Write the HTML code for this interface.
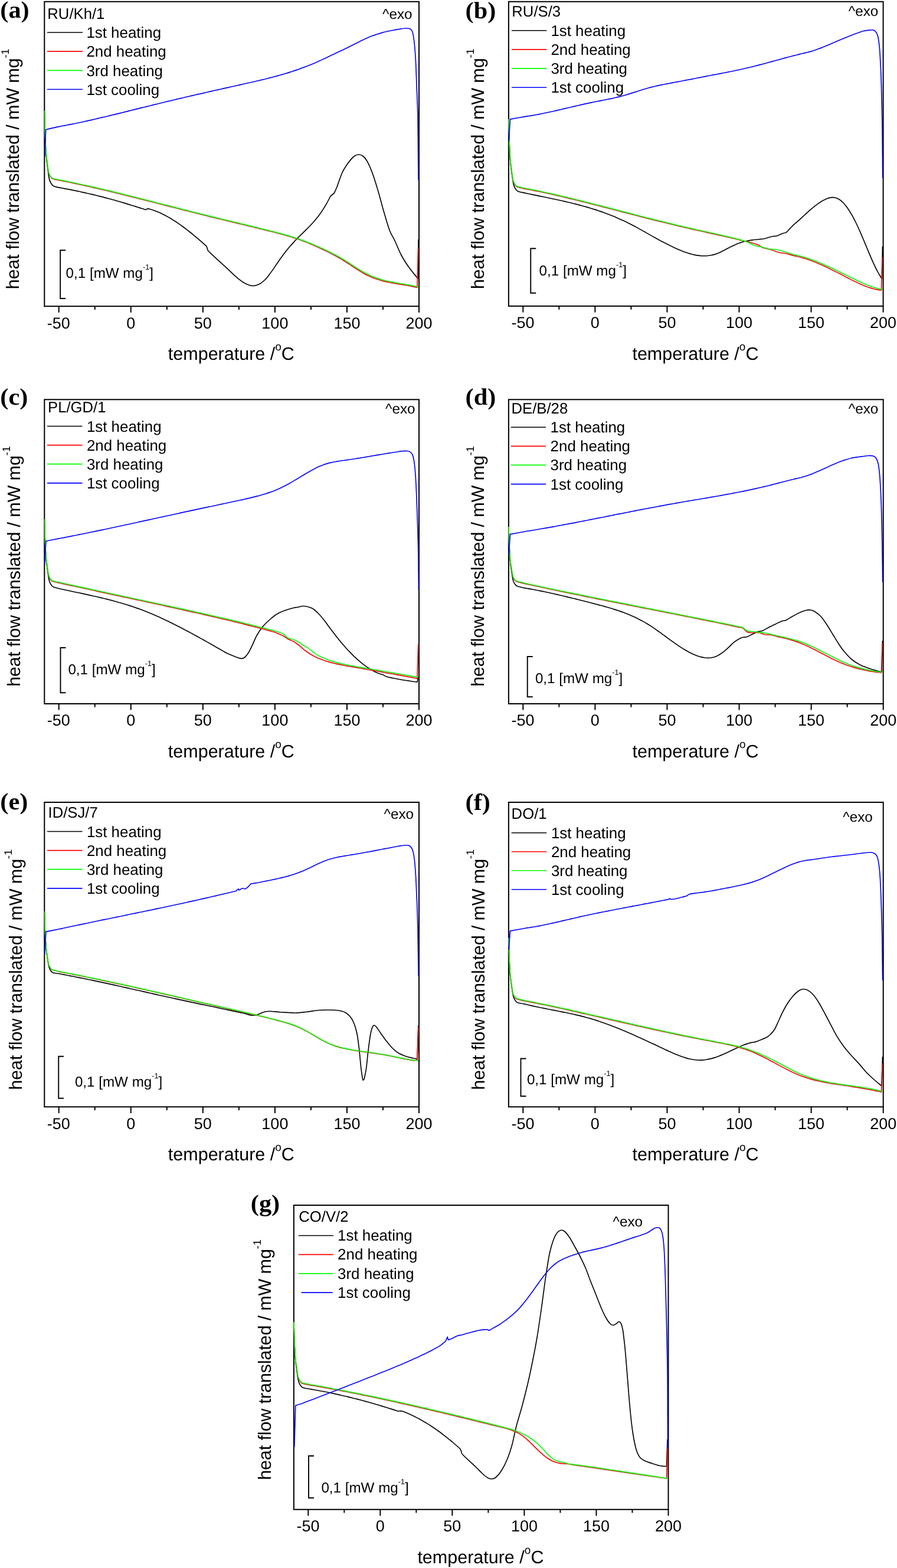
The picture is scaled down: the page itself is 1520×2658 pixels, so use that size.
<!DOCTYPE html>
<html lang="en">
<head>
<meta charset="utf-8">
<title>DSC curves: heat flow versus temperature</title>
<style>
html,body{margin:0;padding:0;background:#fff;}
body{width:1520px;height:2658px;overflow:hidden;}
svg{display:block;}
text{white-space:pre;}
</style>
</head>
<body>
<svg width="1520" height="2658" viewBox="0 0 1520 2658" text-rendering="geometricPrecision">
<rect width="1520" height="2658" fill="#fff"/>
<g class="panel" id="panel-a">
<clipPath id="ca"><rect x="74.1" y="1.8" width="637.1" height="518.4"/></clipPath>
<rect x="75.3" y="2.8" width="634.7" height="516.4" fill="none" stroke="#000" stroke-width="2"/>
<path d="M99.71 519.2 v10.6M160.74 519.2 v5.8M221.77 519.2 v10.6M282.8 519.2 v5.8M343.83 519.2 v10.6M404.86 519.2 v5.8M465.88 519.2 v10.6M526.91 519.2 v5.8M587.94 519.2 v10.6M648.97 519.2 v5.8M710 519.2 v10.6" stroke="#000" stroke-width="2" fill="none"/>
<g clip-path="url(#ca)" fill="none" stroke-linejoin="round" stroke-linecap="butt">
<path d="M75.3 188C75.5 194.4 76 215.6 76.4 226.3C76.8 236.9 77.1 244.9 77.5 251.8C77.9 258.7 78 261.9 78.6 267.5C79.2 273.1 80.2 280.1 80.8 285.5C81.5 290.8 82.2 296 82.7 299.5C83.3 303 83.6 304.3 84.4 306.4C85.2 308.5 86.2 310.5 87.3 312C88.4 313.6 89.3 314.7 91 315.6C92.7 316.5 95 316.9 97.2 317.4C99.5 317.9 102 318.3 104.4 318.7C106.8 319.2 109.1 319.6 111.5 320.1C113.9 320.5 116.3 321 118.6 321.4C121 321.9 123.4 322.4 125.8 322.9C128.2 323.3 130.5 323.8 132.9 324.3C135.3 324.8 137.7 325.4 140 325.9C142.4 326.4 144.8 326.9 147.2 327.5C149.5 328 151.9 328.6 154.3 329.1C156.7 329.7 159.1 330.2 161.4 330.8C163.8 331.4 166.2 332 168.6 332.6C170.9 333.2 173.3 333.8 175.7 334.4C178.1 335.1 180.4 335.7 182.8 336.3C185.2 337 187.6 337.6 190 338.3C192.3 338.9 194.7 339.6 197.1 340.3C199.5 341 201.8 341.6 204.2 342.3C206.6 343 209 343.7 211.3 344.4C213.7 345.2 216.1 345.9 218.5 346.6C220.9 347.3 223.2 348.1 225.6 348.8C228 349.5 230.4 350.3 232.7 351C235.1 351.8 237.5 352.6 239.9 353.3C242.2 354.1 245.8 355.3 247 355.6L250 353.8C250.7 353.9 252.2 354 254 354.5C255.8 355 258.6 355.9 260.9 356.7C263.1 357.5 265.4 358.4 267.7 359.3C270 360.3 272.3 361.3 274.6 362.4C276.9 363.5 279.1 364.7 281.4 365.9C283.7 367.1 286 368.4 288.3 369.8C290.6 371.1 292.9 372.6 295.1 374C297.4 375.5 299.7 377 302 378.6C304.3 380.2 306.6 381.8 308.9 383.5C311.1 385.1 313.4 386.8 315.7 388.6C318 390.4 320.3 392.2 322.6 394C324.9 395.8 327.1 397.7 329.4 399.6C331.7 401.5 334 403.4 336.3 405.4C338.6 407.4 340.9 409.4 343.1 411.4C345.4 413.4 348.9 416.4 350 417.5L352.5 425C353.3 425.8 354.4 426.9 357.5 429.8C360.6 432.7 366.4 438.1 371 442.3C375.6 446.5 380.8 451.3 385 455.2C389.2 459.1 392.7 462.6 396 465.6C399.3 468.6 401.8 470.9 405 473.4C408.2 475.8 411.2 478.4 415 480.3C418.8 482.2 423.3 484.3 427.5 484.5C431.7 484.7 436.2 483.1 440 481.2C443.8 479.4 447.2 476 450 473.3C452.8 470.5 454.6 467.8 456.9 464.8C459.2 461.7 461.5 458.4 463.8 455.1C466 451.8 468.3 448.3 470.6 445C472.9 441.6 475.2 438.3 477.5 435.2C479.8 432 482.1 429 484.4 426.1C486.7 423.3 489 420.5 491.2 417.8C493.5 415.2 495.8 412.6 498.1 410.1C500.4 407.6 502.7 405.3 505 402.9C507.3 400.6 509.6 398.4 511.9 396.1C514.2 393.9 516.5 391.7 518.8 389.4C521 387.2 523.3 384.9 525.6 382.5C527.9 380.1 530.2 377.6 532.5 375C534.8 372.3 537.1 369.6 539.4 366.6C541.7 363.6 544 360.4 546.2 356.9C548.5 353.4 550.8 349.7 553.1 345.7C555.4 341.6 558.9 334.7 560 332.5L566.2 327.5C567.1 325.6 569 322.1 571.2 316.2C573.5 310.4 576.9 299.2 580 292.5C583.1 285.8 586.7 280.8 590 276.2C593.3 271.7 597.1 267.4 600 265C602.9 262.6 605 262.1 607.5 262C610 261.9 612.5 262.5 615 264.5C617.5 266.5 619.6 268.2 622.5 273.8C625.4 279.2 629.2 288.1 632.5 297.5C635.8 306.9 639.6 320 642.5 330C645.4 340 647.1 347.5 650 357.5C652.9 367.5 656.9 381.7 660 390C663.1 398.3 665.4 400.4 668.8 407.5C672.1 414.6 676 425 680 432.5C684 440 688.1 446.2 692.5 452.5C696.9 458.8 703.7 466.8 706.2 470C708.8 473.2 707.7 471.7 708 472L709 406" stroke="#000" stroke-width="1.65"/>
<path d="M75.3 188C75.5 193.7 75.9 212.8 76.2 222.4C76.5 231.9 76.8 239.1 77.1 245.3C77.5 251.5 77.6 254.4 78.1 259.4C78.5 264.4 79.4 270.8 80 275.6C80.5 280.3 81.1 285 81.6 288.2C82.1 291.3 82.3 292.5 82.9 294.3C83.6 296.2 84.5 298 85.4 299.4C86.4 300.8 87.1 301.8 88.5 302.6C89.9 303.4 92 303.8 94.1 304.4C96.2 304.9 98.7 305.3 101.1 305.7C103.4 306.2 105.7 306.6 108 307.1C110.4 307.6 112.7 308 115 308.5C117.3 309 119.6 309.5 122 309.9C124.3 310.4 126.6 310.9 128.9 311.4C131.2 311.9 133.6 312.4 135.9 312.9C138.2 313.4 140.5 313.9 142.9 314.4C145.2 315 147.5 315.5 149.8 316C152.1 316.5 154.5 317 156.8 317.6C159.1 318.1 161.4 318.6 163.7 319.2C166.1 319.7 168.4 320.3 170.7 320.8C173 321.3 175.4 321.9 177.7 322.4C180 323 182.3 323.5 184.6 324.1C187 324.7 189.3 325.2 191.6 325.8C193.9 326.3 196.2 326.9 198.6 327.5C200.9 328 203.2 328.6 205.5 329.2C207.9 329.8 210.2 330.3 212.5 330.9C214.8 331.5 217.1 332.1 219.5 332.6C221.8 333.2 224.1 333.8 226.4 334.4C228.8 335 231.1 335.6 233.4 336.1C235.7 336.7 238 337.3 240.4 337.9C242.7 338.5 245 339.1 247.3 339.7C249.6 340.3 252 340.9 254.3 341.5C256.6 342 258.9 342.6 261.3 343.2C263.6 343.8 265.9 344.4 268.2 345C270.5 345.6 272.9 346.2 275.2 346.8C277.5 347.4 279.8 348 282.1 348.6C284.5 349.2 286.8 349.8 289.1 350.4C291.4 351 293.8 351.6 296.1 352.2C298.4 352.8 300.7 353.3 303 353.9C305.4 354.5 307.7 355.1 310 355.7C312.3 356.3 314.7 356.9 317 357.5C319.3 358.1 321.6 358.7 323.9 359.2C326.3 359.8 328.6 360.4 330.9 361C333.2 361.6 335.5 362.2 337.9 362.7C340.2 363.3 342.5 363.9 344.8 364.5C347.2 365.1 349.5 365.6 351.8 366.2C354.1 366.8 356.4 367.3 358.8 367.9C361.1 368.5 363.4 369.1 365.7 369.6C368 370.2 370.4 370.8 372.7 371.3C375 371.9 377.3 372.5 379.7 373C382 373.6 384.3 374.2 386.6 374.7C388.9 375.3 391.3 375.8 393.6 376.4C395.9 377 398.2 377.5 400.5 378.1C402.9 378.7 405.2 379.2 407.5 379.8C409.8 380.3 412.2 380.9 414.5 381.5C416.8 382 419.1 382.6 421.4 383.1C423.8 383.7 426.1 384.3 428.4 384.8C430.7 385.4 433.1 385.9 435.4 386.5C437.7 387.1 440 387.6 442.3 388.2C444.7 388.8 447 389.3 449.3 389.9C451.6 390.5 453.9 391 456.3 391.6C458.6 392.2 460.9 392.7 463.2 393.3C465.6 393.9 467.9 394.5 470.2 395.1C472.5 395.7 474.8 396.3 477.2 396.9C479.5 397.6 481.8 398.2 484.1 398.9C486.4 399.5 488.8 400.2 491.1 400.9C493.4 401.6 495.7 402.3 498.1 403.1C500.4 403.8 502.7 404.6 505 405.4C507.3 406.2 509.7 407 512 407.9C514.3 408.8 516.6 409.6 519 410.6C521.3 411.5 523.6 412.4 525.9 413.4C528.2 414.4 530.6 415.3 532.9 416.4C535.2 417.4 537.5 418.4 539.8 419.5C542.2 420.6 544.5 421.6 546.8 422.7C549.1 423.9 551.5 425 553.8 426.1C556.1 427.3 558.4 428.4 560.7 429.6C563.1 430.8 565.4 432 567.7 433.3C570 434.5 572.3 435.8 574.7 437.1C577 438.4 579.3 439.8 581.6 441.3C584 442.7 586.3 444.2 588.6 445.7C590.9 447.2 593.2 448.8 595.6 450.3C597.9 451.9 600.2 453.4 602.5 454.9C604.9 456.4 607.2 457.9 609.5 459.4C611.8 460.8 614.1 462.2 616.5 463.5C618.8 464.8 621.1 466 623.4 467.1C625.7 468.3 628.1 469.3 630.4 470.2C632.7 471.2 635 472 637.4 472.8C639.7 473.6 642 474.4 644.3 475C646.6 475.7 649 476.3 651.3 476.9C653.6 477.5 655.9 478 658.2 478.5C660.6 478.9 662.9 479.4 665.2 479.8C667.5 480.2 669.9 480.6 672.2 481C674.5 481.4 676.8 481.8 679.1 482.1C681.5 482.5 683.8 482.9 686.1 483.3C688.4 483.7 690.7 484.1 693.1 484.5C695.4 484.9 697.7 485.4 700 485.9C702.4 486.4 705.8 487.2 707 487.5L708.7 420" stroke="#f00" stroke-width="1.65"/>
<path d="M75.3 188C75.5 193.7 75.9 212.7 76.2 222.2C76.5 231.7 76.8 238.8 77.1 244.9C77.5 251.1 77.6 253.9 78.1 259C78.5 264 79.4 270.3 80 275C80.5 279.8 81.1 284.4 81.6 287.5C82.1 290.7 82.3 291.8 82.9 293.7C83.6 295.6 84.5 297.3 85.4 298.7C86.4 300.1 87.1 301.1 88.5 301.9C89.9 302.7 92 303.2 94.1 303.7C96.2 304.2 98.8 304.6 101.1 305C103.4 305.5 105.7 305.9 108.1 306.4C110.4 306.9 112.7 307.3 115 307.8C117.4 308.3 119.7 308.8 122 309.3C124.4 309.7 126.7 310.2 129 310.7C131.3 311.2 133.7 311.7 136 312.2C138.3 312.7 140.6 313.2 143 313.8C145.3 314.3 147.6 314.8 150 315.3C152.3 315.8 154.6 316.4 156.9 316.9C159.3 317.4 161.6 318 163.9 318.5C166.2 319 168.6 319.6 170.9 320.1C173.2 320.7 175.6 321.2 177.9 321.8C180.2 322.3 182.5 322.9 184.9 323.4C187.2 324 189.5 324.6 191.8 325.1C194.2 325.7 196.5 326.3 198.8 326.8C201.2 327.4 203.5 328 205.8 328.5C208.1 329.1 210.5 329.7 212.8 330.3C215.1 330.9 217.4 331.4 219.8 332C222.1 332.6 224.4 333.2 226.8 333.8C229.1 334.4 231.4 335 233.7 335.5C236.1 336.1 238.4 336.7 240.7 337.3C243 337.9 245.4 338.5 247.7 339.1C250 339.7 252.4 340.3 254.7 340.9C257 341.5 259.3 342.1 261.7 342.7C264 343.3 266.3 343.9 268.6 344.5C271 345.1 273.3 345.7 275.6 346.2C278 346.8 280.3 347.4 282.6 348C284.9 348.6 287.3 349.2 289.6 349.8C291.9 350.4 294.2 351 296.6 351.6C298.9 352.2 301.2 352.8 303.6 353.4C305.9 354 308.2 354.6 310.5 355.2C312.9 355.8 315.2 356.4 317.5 356.9C319.8 357.5 322.2 358.1 324.5 358.7C326.8 359.3 329.2 359.9 331.5 360.5C333.8 361 336.1 361.6 338.5 362.2C340.8 362.8 343.1 363.4 345.4 363.9C347.8 364.5 350.1 365.1 352.4 365.6C354.8 366.2 357.1 366.8 359.4 367.4C361.7 367.9 364.1 368.5 366.4 369.1C368.7 369.6 371 370.2 373.4 370.8C375.7 371.3 378 371.9 380.4 372.5C382.7 373 385 373.6 387.3 374.1C389.7 374.7 392 375.3 394.3 375.8C396.6 376.4 399 377 401.3 377.5C403.6 378.1 406 378.6 408.3 379.2C410.6 379.8 412.9 380.3 415.3 380.9C417.6 381.5 419.9 382 422.2 382.6C424.6 383.2 426.9 383.7 429.2 384.3C431.6 384.9 433.9 385.4 436.2 386C438.5 386.6 440.9 387.1 443.2 387.7C445.5 388.3 447.8 388.8 450.2 389.4C452.5 390 454.8 390.6 457.2 391.2C459.5 391.7 461.8 392.3 464.1 392.9C466.5 393.5 468.8 394.1 471.1 394.7C473.4 395.3 475.8 396 478.1 396.6C480.4 397.3 482.8 397.9 485.1 398.6C487.4 399.2 489.7 399.9 492.1 400.6C494.4 401.3 496.7 402.1 499 402.8C501.4 403.6 503.7 404.3 506 405.1C508.4 405.9 510.7 406.7 513 407.6C515.3 408.4 517.7 409.3 520 410.2C522.3 411.1 524.6 412 527 413C529.3 413.9 531.6 414.9 534 415.9C536.3 416.9 538.6 417.9 540.9 418.9C543.3 419.9 545.6 421 547.9 422.1C550.2 423.2 552.6 424.3 554.9 425.4C557.2 426.5 559.6 427.7 561.9 428.9C564.2 430 566.5 431.2 568.9 432.5C571.2 433.7 573.5 435 575.8 436.3C578.2 437.6 580.5 439 582.8 440.4C585.2 441.8 587.5 443.3 589.8 444.8C592.1 446.3 594.5 447.9 596.8 449.4C599.1 450.9 601.4 452.4 603.8 453.9C606.1 455.4 608.4 456.9 610.8 458.3C613.1 459.7 615.4 461 617.7 462.3C620.1 463.5 622.4 464.7 624.7 465.8C627 466.9 629.4 467.9 631.7 468.9C634 469.8 636.4 470.6 638.7 471.4C641 472.2 643.3 473 645.7 473.7C648 474.3 650.3 475 652.6 475.5C655 476.1 657.3 476.6 659.6 477.1C662 477.6 664.3 478.1 666.6 478.5C668.9 479 671.3 479.4 673.6 479.8C675.9 480.2 678.2 480.6 680.6 481C682.9 481.4 685.2 481.7 687.6 482.1C689.9 482.5 692.2 482.9 694.5 483.4C696.9 483.8 699.2 484.3 701.5 484.8C703.8 485.3 707.3 486.1 708.5 486.4" stroke="#0f0" stroke-width="1.65"/>
<path d="M75.9 265L77.6 219.7L77.6 219.7C81.3 218.8 95.1 215.6 100 214.6C104.9 213.5 104.7 213.7 107 213.3C109.3 212.9 111.7 212.4 114 212C116.4 211.5 118.7 211.1 121 210.6C123.4 210.1 125.7 209.6 128 209.2C130.4 208.7 132.7 208.2 135.1 207.7C137.4 207.2 139.7 206.7 142.1 206.2C144.4 205.7 146.7 205.2 149.1 204.6C151.4 204.1 153.8 203.6 156.1 203.1C158.4 202.5 160.8 202 163.1 201.5C165.4 200.9 167.8 200.4 170.1 199.8C172.5 199.3 174.8 198.7 177.1 198.2C179.5 197.6 181.8 197.1 184.1 196.5C186.5 195.9 188.8 195.4 191.2 194.8C193.5 194.2 195.8 193.7 198.2 193.1C200.5 192.5 202.8 191.9 205.2 191.4C207.5 190.8 209.9 190.2 212.2 189.6C214.5 189.1 216.9 188.5 219.2 187.9C221.5 187.3 223.9 186.7 226.2 186.1C228.6 185.6 230.9 185 233.2 184.4C235.6 183.8 237.9 183.2 240.2 182.6C242.6 182.1 244.9 181.5 247.3 180.9C249.6 180.3 251.9 179.7 254.3 179.2C256.6 178.6 258.9 178 261.3 177.4C263.6 176.9 266 176.3 268.3 175.7C270.6 175.2 273 174.6 275.3 174C277.6 173.5 280 172.9 282.3 172.3C284.7 171.8 287 171.2 289.3 170.7C291.7 170.1 294 169.5 296.3 169C298.7 168.4 301 167.9 303.4 167.3C305.7 166.8 308 166.2 310.4 165.7C312.7 165.1 315 164.6 317.4 164C319.7 163.5 322.1 162.9 324.4 162.4C326.7 161.9 329.1 161.3 331.4 160.8C333.7 160.2 336.1 159.7 338.4 159.2C340.8 158.6 343.1 158.1 345.4 157.6C347.8 157 350.1 156.5 352.4 156C354.8 155.4 357.1 154.9 359.5 154.4C361.8 153.8 364.1 153.3 366.5 152.8C368.8 152.3 371.1 151.7 373.5 151.2C375.8 150.7 378.2 150.2 380.5 149.6C382.8 149.1 385.2 148.6 387.5 148.1C389.8 147.5 392.2 147 394.5 146.5C396.8 146 399.2 145.5 401.5 145C403.9 144.4 406.2 143.9 408.5 143.4C410.9 142.9 413.2 142.4 415.5 141.8C417.9 141.3 420.2 140.8 422.6 140.3C424.9 139.7 427.2 139.2 429.6 138.7C431.9 138.1 434.2 137.6 436.6 137C438.9 136.5 441.3 135.9 443.6 135.4C445.9 134.8 448.3 134.2 450.6 133.7C452.9 133.1 455.3 132.5 457.6 131.9C460 131.3 462.3 130.7 464.6 130C467 129.4 469.3 128.8 471.6 128.1C474 127.5 476.3 126.8 478.7 126.1C481 125.5 483.3 124.8 485.7 124.1C488 123.3 490.3 122.6 492.7 121.9C495 121.1 497.4 120.4 499.7 119.6C502 118.8 504.4 118 506.7 117.2C509 116.3 511.4 115.5 513.7 114.6C516.1 113.8 518.4 112.9 520.7 112C523.1 111.1 525.4 110.1 527.7 109.2C530.1 108.2 532.4 107.2 534.8 106.2C537.1 105.2 539.4 104.1 541.8 103.1C544.1 102 546.4 100.9 548.8 99.8C551.1 98.7 553.5 97.6 555.8 96.5C558.1 95.4 560.5 94.2 562.8 93.1C565.1 92 567.5 90.9 569.8 89.8C572.2 88.6 574.5 87.5 576.8 86.5C579.2 85.4 581.5 84.3 583.8 83.2C586.2 82.1 588.5 81 590.9 79.8C593.2 78.7 595.5 77.5 597.9 76.3C600.2 75.1 602.5 73.9 604.9 72.7C607.2 71.5 609.6 70.3 611.9 69.1C614.2 68 616.6 66.9 618.9 65.8C621.2 64.8 623.6 63.8 625.9 62.8C628.3 61.9 630.6 61 632.9 60.1C635.3 59.3 637.6 58.5 639.9 57.7C642.3 56.9 644.6 56.2 647 55.6C649.3 54.9 651.6 54.3 654 53.8C656.3 53.2 658.6 52.7 661 52.2C663.3 51.7 665.7 51.3 668 50.9C670.3 50.4 671.7 50 675 49.6C678.3 49.1 684.2 48.1 687.5 48C690.8 47.9 693.1 48 695 49C696.9 50 697.6 50.2 698.8 53.8C699.9 57.2 700.8 62.3 701.8 70C702.7 77.7 703.5 86.7 704.2 100C705 113.3 705.6 133.3 706.2 150C706.9 166.7 707.6 179.2 708 200C708.4 220.8 708.5 257.5 708.7 275C708.9 292.5 709 300 709 305" stroke="#00f" stroke-width="1.65"/>
</g>
<g font-family='"Liberation Sans", sans-serif' font-size="27" text-anchor="middle" fill="#000">
<text x="99.31" y="556.6">-50</text>
<text x="221.77" y="556.6">0</text>
<text x="343.83" y="556.6">50</text>
<text x="465.88" y="556.6">100</text>
<text x="587.94" y="556.6">150</text>
<text x="710" y="556.6">200</text>
</g>
<text x="391.85" y="610" font-family='"Liberation Sans", sans-serif' font-size="30.5" text-anchor="middle" fill="#000">temperature /<tspan font-size="19" dy="-16">o</tspan><tspan dy="16">C</tspan></text>
<text transform="translate(32 82.6) rotate(-90)" font-family='"Liberation Sans", sans-serif' font-size="30.5" text-anchor="end" letter-spacing="-0.12" fill="#000">heat flow translated / mW mg<tspan font-size="18.3" dy="-17.08">-1</tspan></text>
<text transform="translate(0.3 30.1) scale(1.06 1)" font-family='"Liberation Serif", serif' font-weight="bold" font-size="40" fill="#000">(a)</text>
<text x="80.3" y="32" font-family='"Liberation Sans", sans-serif' font-size="25.7" fill="#000">RU/Kh/1</text>
<text x="648" y="32" font-family='"Liberation Sans", sans-serif' font-size="24.3" fill="#000">^exo</text>
<path d="M80 55 H140" stroke="#000" stroke-width="1.7" fill="none"/>
<path d="M80 87.17 H140" stroke="#f00" stroke-width="1.7" fill="none"/>
<path d="M80 119.34 H140" stroke="#0f0" stroke-width="1.7" fill="none"/>
<path d="M80 151.51 H140" stroke="#00f" stroke-width="1.7" fill="none"/>
<g font-family='"Liberation Sans", sans-serif' font-size="25.9" fill="#000">
<text x="146.4" y="64.25">1st heating</text>
<text x="146.4" y="96.42">2nd heating</text>
<text x="146.4" y="128.59">3rd heating</text>
<text x="146.4" y="160.76">1st cooling</text>
</g>
<path d="M111.2 424.3 H102.2 V506 H111.2" stroke="#000" stroke-width="1.9" fill="none"/>
<text x="111.6" y="470.8" font-family='"Liberation Sans", sans-serif' font-size="24.2" fill="#000">0,1 [mW mg<tspan font-size="12.58" dy="-13.55">-1</tspan><tspan dy="13.55">]</tspan></text>
</g>
<g class="panel" id="panel-b">
<clipPath id="cb"><rect x="860.7" y="1.8" width="637.1" height="518.1"/></clipPath>
<rect x="861.9" y="2.8" width="634.7" height="516.1" fill="none" stroke="#000" stroke-width="2"/>
<path d="M886.31 518.9 v10.6M947.34 518.9 v5.8M1008.37 518.9 v10.6M1069.4 518.9 v5.8M1130.43 518.9 v10.6M1191.46 518.9 v5.8M1252.48 518.9 v10.6M1313.51 518.9 v5.8M1374.54 518.9 v10.6M1435.57 518.9 v5.8M1496.6 518.9 v10.6" stroke="#000" stroke-width="2" fill="none"/>
<g clip-path="url(#cb)" fill="none" stroke-linejoin="round" stroke-linecap="butt">
<path d="M861.9 202C862.1 208.1 862.6 228.5 863 238.7C863.4 248.9 863.8 256.6 864.1 263.2C864.5 269.8 864.7 272.9 865.3 278.3C865.8 283.6 866.8 290.4 867.5 295.5C868.3 300.6 868.9 305.6 869.5 309C870.1 312.3 870.4 313.6 871.2 315.6C871.9 317.6 873 319.5 874.2 321C875.3 322.4 875.7 323.5 877.9 324.4C880.1 325.3 884.5 326 887.2 326.6C890 327.3 891.9 327.7 894.3 328.2C896.6 328.7 899 329.2 901.3 329.6C903.7 330.1 906 330.6 908.4 331.1C910.7 331.6 913.1 332.1 915.4 332.6C917.8 333.1 920.1 333.5 922.5 334C924.8 334.5 927.2 335 929.5 335.5C931.9 336 934.2 336.5 936.6 337C938.9 337.5 941.3 338 943.6 338.5C946 339 948.3 339.5 950.7 340C953 340.6 955.4 341.1 957.7 341.6C960.1 342.2 962.4 342.7 964.8 343.3C967.1 343.8 969.5 344.4 971.8 345C974.2 345.6 976.5 346.2 978.9 346.8C981.2 347.4 983.6 348 985.9 348.7C988.3 349.3 990.6 349.9 993 350.6C995.3 351.3 997.7 352 1000 352.7C1002.4 353.4 1004.7 354.1 1007.1 354.9C1009.4 355.6 1011.8 356.4 1014.1 357.2C1016.5 358 1018.8 358.8 1021.2 359.6C1023.5 360.5 1025.8 361.3 1028.2 362.2C1030.5 363.1 1032.9 364 1035.2 364.9C1037.6 365.9 1039.9 366.8 1042.3 367.8C1044.6 368.8 1047 369.8 1049.3 370.9C1051.7 371.9 1054 373 1056.4 374.1C1058.7 375.1 1061.1 376.3 1063.4 377.4C1065.8 378.6 1068.1 379.8 1070.5 381C1072.8 382.2 1075.2 383.4 1077.5 384.7C1079.9 386 1082.2 387.3 1084.6 388.6C1086.9 389.9 1089.3 391.2 1091.6 392.6C1094 393.9 1096.3 395.3 1098.7 396.6C1101 397.9 1103.4 399.3 1105.7 400.6C1108.1 401.9 1110.4 403.2 1112.8 404.5C1115.1 405.8 1117.5 407.1 1119.8 408.4C1122.2 409.6 1124.5 410.9 1126.9 412.1C1129.2 413.3 1131.6 414.5 1133.9 415.6C1136.3 416.8 1138.6 417.9 1141 419C1143.3 420.1 1145.7 421.2 1148 422.2C1150.4 423.2 1152.7 424.2 1155.1 425.2C1157.4 426.1 1159.8 427 1162.1 427.8C1164.4 428.6 1166.8 429.4 1169.1 430.1C1171.5 430.7 1173.8 431.4 1176.2 431.9C1178.5 432.4 1180.9 432.8 1183.2 433.1C1185.6 433.4 1187.9 433.7 1190.3 433.7C1192.6 433.8 1195 433.8 1197.3 433.7C1199.7 433.5 1202 433.2 1204.4 432.8C1206.7 432.4 1209.1 431.8 1211.4 431.1C1213.8 430.3 1216.1 429.4 1218.5 428.4C1220.8 427.4 1223.2 426.2 1225.5 425C1227.9 423.9 1230.2 422.6 1232.6 421.3C1234.9 420.1 1237.3 418.8 1239.6 417.7C1242 416.5 1244.3 415.4 1246.7 414.4C1249 413.4 1251.4 412.5 1253.7 411.7C1256.1 410.9 1258.4 410.1 1260.8 409.5C1263.1 408.9 1265.5 408.4 1267.8 408C1270.2 407.6 1272.5 407.2 1274.9 406.9C1277.2 406.6 1279.6 406.4 1281.9 406.2C1284.3 405.9 1286.6 405.7 1289 405.4C1291.3 405.2 1292.7 405.3 1296 404.5C1299.3 403.7 1305.2 401.5 1308.5 400.8C1311.8 400 1313.1 400.8 1316 400C1318.9 399.2 1323.3 396.7 1326 395.8C1328.7 394.8 1331.2 394.5 1332.2 394.2L1332.2 394.2C1334.1 392.3 1340.4 385.4 1343.5 382.4C1346.6 379.4 1348.3 378.3 1350.6 376.2C1353 374.1 1355.4 371.9 1357.8 369.7C1360.2 367.5 1362.5 365.3 1364.9 363.1C1367.3 361 1369.7 358.8 1372.1 356.7C1374.5 354.6 1376.8 352.6 1379.2 350.7C1381.6 348.7 1384 346.9 1386.4 345.2C1388.7 343.5 1391.1 341.9 1393.5 340.5C1395.9 339.1 1398.3 337.8 1400.6 336.9C1403 335.9 1405.4 335.2 1407.8 334.9C1410.2 334.6 1412.5 334.5 1414.9 335C1417.3 335.6 1419.7 336.5 1422.1 338C1424.5 339.5 1426.8 341.5 1429.2 344C1431.6 346.5 1434 349.5 1436.4 352.9C1438.7 356.3 1441.1 360.2 1443.5 364.4C1445.9 368.6 1448.3 373.2 1450.6 378C1453 382.9 1455.4 388.2 1457.8 393.6C1460.2 398.9 1462.5 404.7 1464.9 410.4C1467.3 416 1469.7 421.9 1472.1 427.6C1474.5 433.2 1476.8 438.9 1479.2 444.1C1481.6 449.4 1484 454.5 1486.4 459C1488.7 463.6 1492.1 469.1 1493.5 471.3C1494.9 473.5 1494.3 472.3 1494.5 472.5L1495.5 417.5" stroke="#000" stroke-width="1.65"/>
<path d="M861.9 202C862.1 207.7 862.6 226.8 862.9 236.3C863.2 245.9 863.5 253 863.9 259.2C864.2 265.4 864.4 268.2 864.9 273.3C865.4 278.3 866.3 284.6 866.9 289.4C867.5 294.2 868.1 298.9 868.6 302C869.1 305.1 869.4 306.3 870.1 308.2C870.8 310 871.7 311.8 872.7 313.2C873.7 314.6 873.6 315.3 876 316.4C878.4 317.5 884.2 318.8 887.2 319.6C890.3 320.3 891.9 320.4 894.2 320.9C896.5 321.3 898.8 321.7 901.2 322.2C903.5 322.7 905.8 323.1 908.1 323.6C910.4 324.1 912.8 324.5 915.1 325C917.4 325.5 919.7 326 922 326.5C924.4 327 926.7 327.5 929 328C931.3 328.5 933.6 329 936 329.5C938.3 330.1 940.6 330.6 942.9 331.1C945.2 331.7 947.5 332.2 949.9 332.7C952.2 333.3 954.5 333.8 956.8 334.4C959.1 334.9 961.5 335.5 963.8 336.1C966.1 336.6 968.4 337.2 970.7 337.8C973.1 338.3 975.4 338.9 977.7 339.5C980 340 982.3 340.6 984.7 341.2C987 341.8 989.3 342.4 991.6 343C993.9 343.5 996.3 344.1 998.6 344.7C1000.9 345.3 1003.2 345.9 1005.5 346.5C1007.8 347.1 1010.2 347.7 1012.5 348.3C1014.8 348.9 1017.1 349.5 1019.4 350.1C1021.8 350.7 1024.1 351.3 1026.4 351.9C1028.7 352.5 1031 353.1 1033.4 353.7C1035.7 354.3 1038 354.9 1040.3 355.5C1042.6 356.1 1045 356.7 1047.3 357.3C1049.6 357.9 1051.9 358.5 1054.2 359.1C1056.6 359.7 1058.9 360.3 1061.2 360.9C1063.5 361.5 1065.8 362.1 1068.1 362.7C1070.5 363.3 1072.8 363.9 1075.1 364.5C1077.4 365.1 1079.7 365.7 1082.1 366.3C1084.4 366.9 1086.7 367.5 1089 368.1C1091.3 368.7 1093.7 369.3 1096 369.9C1098.3 370.4 1100.6 371 1102.9 371.6C1105.3 372.2 1107.6 372.8 1109.9 373.4C1112.2 373.9 1114.5 374.5 1116.8 375.1C1119.2 375.7 1121.5 376.3 1123.8 376.8C1126.1 377.4 1128.4 378 1130.8 378.5C1133.1 379.1 1135.4 379.7 1137.7 380.2C1140 380.8 1142.4 381.3 1144.7 381.9C1147 382.5 1149.3 383 1151.6 383.6C1154 384.1 1156.3 384.7 1158.6 385.2C1160.9 385.7 1163.2 386.3 1165.6 386.8C1167.9 387.3 1170.2 387.9 1172.5 388.4C1174.8 388.9 1177.1 389.4 1179.5 390C1181.8 390.5 1184.1 391 1186.4 391.5C1188.7 392 1191.1 392.5 1193.4 393C1195.7 393.6 1198 394.1 1200.3 394.6C1202.7 395.1 1205 395.6 1207.3 396.1C1209.6 396.6 1211.9 397.1 1214.3 397.6C1216.6 398.2 1218.9 398.7 1221.2 399.2C1223.5 399.7 1225.9 400.2 1228.2 400.8C1230.5 401.3 1232.8 401.8 1235.1 402.4C1237.4 402.9 1239.8 403.5 1242.1 404C1244.4 404.6 1246.7 405.2 1249 405.7C1251.4 406.3 1252.5 406.7 1256 407.5C1259.5 408.3 1265 409.1 1270 410.5C1275 411.9 1282.5 414.3 1286 415.8C1289.5 417.2 1287.7 418 1291 419.3C1294.3 420.6 1301 421.8 1306 423.3C1311 424.8 1316.8 427.2 1321 428.2C1325.2 429.3 1327.3 428.7 1331 429.5C1334.7 430.3 1339.9 432.1 1343 432.9C1346.1 433.7 1347.6 433.8 1349.8 434.3C1352.1 434.8 1354.4 435.4 1356.7 436C1359 436.6 1361.2 437.3 1363.5 438C1365.8 438.7 1368.1 439.5 1370.4 440.3C1372.6 441.1 1374.9 441.9 1377.2 442.8C1379.5 443.7 1381.8 444.6 1384 445.5C1386.3 446.5 1388.6 447.4 1390.9 448.5C1393.2 449.5 1395.4 450.5 1397.7 451.6C1400 452.6 1402.3 453.7 1404.6 454.8C1406.8 455.9 1409.1 457 1411.4 458.2C1413.7 459.3 1416 460.4 1418.2 461.6C1420.5 462.8 1422.8 463.9 1425.1 465.1C1427.4 466.3 1429.7 467.5 1431.9 468.7C1434.2 469.8 1436.5 471 1438.8 472.2C1441.1 473.4 1443.3 474.6 1445.6 475.7C1447.9 476.8 1450.2 478 1452.5 479C1454.7 480.1 1457 481.2 1459.3 482.2C1461.6 483.2 1463.9 484.1 1466.1 485C1468.4 485.9 1470.7 486.7 1473 487.5C1475.3 488.2 1477.5 488.9 1479.8 489.5C1482.1 490.1 1484.4 490.7 1486.7 491.1C1488.9 491.5 1492.4 491.9 1493.5 492L1495 436" stroke="#f00" stroke-width="1.65"/>
<path d="M861.9 202C862.1 207.7 862.6 226.6 862.9 236.1C863.2 245.5 863.5 252.7 863.9 258.8C864.2 264.9 864.4 267.8 864.9 272.8C865.4 277.8 866.3 284 866.9 288.8C867.5 293.5 868.1 298.2 868.6 301.3C869.1 304.4 869.4 305.6 870.1 307.4C870.8 309.3 871.7 311.1 872.7 312.4C873.7 313.8 873.6 314.5 876 315.6C878.4 316.7 884.2 318.1 887.2 318.8C890.3 319.6 891.9 319.7 894.2 320.1C896.5 320.5 898.8 321 901.2 321.4C903.5 321.9 905.8 322.4 908.1 322.8C910.4 323.3 912.8 323.8 915.1 324.2C917.4 324.7 919.7 325.2 922 325.7C924.4 326.2 926.7 326.7 929 327.2C931.3 327.7 933.6 328.3 936 328.8C938.3 329.3 940.6 329.8 942.9 330.4C945.2 330.9 947.5 331.4 949.9 332C952.2 332.5 954.5 333.1 956.8 333.6C959.1 334.2 961.5 334.7 963.8 335.3C966.1 335.8 968.4 336.4 970.7 337C973.1 337.5 975.4 338.1 977.7 338.7C980 339.3 982.3 339.8 984.7 340.4C987 341 989.3 341.6 991.6 342.2C993.9 342.7 996.3 343.3 998.6 343.9C1000.9 344.5 1003.2 345.1 1005.5 345.7C1007.8 346.3 1010.2 346.9 1012.5 347.5C1014.8 348.1 1017.1 348.7 1019.4 349.3C1021.8 349.9 1024.1 350.5 1026.4 351.1C1028.7 351.7 1031 352.3 1033.4 352.9C1035.7 353.5 1038 354.1 1040.3 354.7C1042.6 355.3 1045 355.9 1047.3 356.5C1049.6 357.1 1051.9 357.7 1054.2 358.3C1056.6 358.9 1058.9 359.5 1061.2 360.1C1063.5 360.7 1065.8 361.3 1068.1 361.9C1070.5 362.5 1072.8 363.1 1075.1 363.7C1077.4 364.3 1079.7 364.9 1082.1 365.5C1084.4 366.1 1086.7 366.7 1089 367.3C1091.3 367.9 1093.7 368.5 1096 369.1C1098.3 369.6 1100.6 370.2 1102.9 370.8C1105.3 371.4 1107.6 372 1109.9 372.6C1112.2 373.2 1114.5 373.7 1116.8 374.3C1119.2 374.9 1121.5 375.5 1123.8 376C1126.1 376.6 1128.4 377.2 1130.8 377.7C1133.1 378.3 1135.4 378.9 1137.7 379.4C1140 380 1142.4 380.6 1144.7 381.1C1147 381.7 1149.3 382.2 1151.6 382.8C1154 383.3 1156.3 383.9 1158.6 384.4C1160.9 384.9 1163.2 385.5 1165.6 386C1167.9 386.5 1170.2 387.1 1172.5 387.6C1174.8 388.1 1177.1 388.6 1179.5 389.2C1181.8 389.7 1184.1 390.2 1186.4 390.7C1188.7 391.2 1191.1 391.7 1193.4 392.2C1195.7 392.7 1198 393.3 1200.3 393.8C1202.7 394.3 1205 394.8 1207.3 395.3C1209.6 395.8 1211.9 396.3 1214.3 396.8C1216.6 397.4 1218.9 397.9 1221.2 398.4C1223.5 398.9 1225.9 399.5 1228.2 400C1230.5 400.5 1232.8 401.1 1235.1 401.6C1237.4 402.2 1239.8 402.8 1242.1 403.3C1244.4 403.9 1246.7 404.5 1249 405.1C1251.4 405.7 1252.8 405.8 1256 406.9C1259.2 407.9 1264.8 409.7 1268.5 411.2C1272.2 412.8 1274.8 415 1278.5 416.2C1282.2 417.5 1286.4 417.7 1291 418.8C1295.6 419.8 1301.8 421.8 1306 422.5C1310.2 423.2 1311.8 422.2 1316 423C1320.2 423.8 1326.5 425.7 1331 427C1335.5 428.3 1339.8 430.1 1343 431C1346.2 431.9 1347.6 431.9 1349.9 432.5C1352.2 433 1354.5 433.6 1356.8 434.2C1359.1 434.9 1361.4 435.5 1363.7 436.2C1366 437 1368.3 437.7 1370.6 438.5C1372.9 439.3 1375.2 440.1 1377.5 441C1379.8 441.8 1382.2 442.7 1384.5 443.6C1386.8 444.5 1389.1 445.5 1391.4 446.4C1393.7 447.4 1396 448.4 1398.3 449.4C1400.6 450.4 1402.9 451.4 1405.2 452.5C1407.5 453.5 1409.8 454.6 1412.1 455.7C1414.4 456.8 1416.7 457.9 1419 459C1421.3 460.1 1423.6 461.2 1425.9 462.4C1428.2 463.5 1430.5 464.7 1432.8 465.8C1435.1 466.9 1437.4 468.1 1439.7 469.2C1442 470.4 1444.3 471.5 1446.6 472.6C1448.9 473.8 1451.2 474.9 1453.5 476C1455.8 477.1 1458.2 478.1 1460.5 479.2C1462.8 480.2 1465.1 481.2 1467.4 482.1C1469.7 483.1 1472 484 1474.3 484.9C1476.6 485.7 1478.9 486.5 1481.2 487.3C1483.5 488 1485.8 488.7 1488.1 489.4C1490.4 490 1493.8 490.7 1495 491" stroke="#0f0" stroke-width="1.65"/>
<path d="M862.2 239.4L864.5 202.1L864.5 202.1C868.8 201.4 884.6 198.5 890 197.6C895.4 196.7 894.7 196.9 897 196.5C899.3 196.2 901.7 195.8 904 195.4C906.3 194.9 908.7 194.5 911 194.1C913.3 193.6 915.6 193.2 918 192.7C920.3 192.3 922.6 191.8 925 191.3C927.3 190.8 929.6 190.3 932 189.8C934.3 189.3 936.6 188.8 939 188.2C941.3 187.7 943.6 187.2 946 186.6C948.3 186.1 950.6 185.6 952.9 185C955.3 184.5 957.6 183.9 959.9 183.4C962.3 182.9 964.6 182.3 966.9 181.8C969.3 181.2 971.6 180.7 973.9 180.1C976.3 179.6 978.6 179.1 980.9 178.5C983.3 178 985.6 177.5 987.9 176.9C990.2 176.4 992.6 175.9 994.9 175.4C997.2 174.9 999.6 174.4 1001.9 173.9C1004.2 173.4 1006.6 172.9 1008.9 172.5C1011.2 172 1013.6 171.6 1015.9 171.1C1018.2 170.6 1020.6 170.2 1022.9 169.7C1025.2 169.3 1027.5 168.8 1029.9 168.3C1032.2 167.9 1034.5 167.4 1036.9 166.9C1039.2 166.4 1041.5 165.8 1043.9 165.3C1046.2 164.7 1048.5 164.2 1050.9 163.6C1053.2 163 1055.5 162.3 1057.9 161.7C1060.2 161 1062.5 160.3 1064.8 159.6C1067.2 158.9 1069.5 158.2 1071.8 157.4C1074.2 156.7 1076.5 155.9 1078.8 155.2C1081.2 154.4 1083.5 153.7 1085.8 153C1088.2 152.2 1090.5 151.5 1092.8 150.8C1095.2 150.1 1097.5 149.5 1099.8 148.8C1102.1 148.2 1104.5 147.6 1106.8 147C1109.1 146.5 1111.5 145.9 1113.8 145.4C1116.1 144.9 1118.5 144.4 1120.8 143.9C1123.1 143.4 1125.5 143 1127.8 142.5C1130.1 142.1 1132.5 141.6 1134.8 141.2C1137.1 140.8 1139.4 140.3 1141.8 139.9C1144.1 139.5 1146.4 139 1148.8 138.6C1151.1 138.1 1153.4 137.7 1155.8 137.3C1158.1 136.8 1160.4 136.4 1162.8 135.9C1165.1 135.5 1167.4 135 1169.8 134.6C1172.1 134.1 1174.4 133.7 1176.8 133.2C1179.1 132.7 1181.4 132.3 1183.7 131.8C1186.1 131.4 1188.4 130.9 1190.7 130.5C1193.1 130 1195.4 129.6 1197.7 129.1C1200.1 128.6 1202.4 128.2 1204.7 127.7C1207.1 127.3 1209.4 126.9 1211.7 126.4C1214.1 126 1216.4 125.5 1218.7 125.1C1221 124.6 1223.4 124.2 1225.7 123.7C1228 123.3 1230.4 122.8 1232.7 122.4C1235 121.9 1237.4 121.4 1239.7 121C1242 120.5 1244.4 120 1246.7 119.5C1249 119 1251.4 118.5 1253.7 118C1256 117.5 1258.3 117 1260.7 116.5C1263 115.9 1265.3 115.4 1267.7 114.8C1270 114.3 1272.3 113.7 1274.7 113.1C1277 112.6 1279.3 112 1281.7 111.4C1284 110.8 1286.3 110.2 1288.7 109.6C1291 109 1293.3 108.4 1295.6 107.7C1298 107.1 1300.3 106.5 1302.6 105.8C1305 105.2 1307.3 104.6 1309.6 103.9C1312 103.3 1314.3 102.6 1316.6 102C1319 101.4 1321.3 100.7 1323.6 100.1C1326 99.4 1328.3 98.8 1330.6 98.1C1332.9 97.5 1335.3 96.9 1337.6 96.3C1339.9 95.6 1342.3 95 1344.6 94.4C1346.9 93.9 1349.3 93.3 1351.6 92.7C1353.9 92.1 1356.3 91.6 1358.6 91C1360.9 90.5 1363.3 90 1365.6 89.4C1367.9 88.8 1370.2 88.3 1372.6 87.6C1374.9 87 1377.2 86.3 1379.6 85.5C1381.9 84.7 1384.2 83.9 1386.6 83C1388.9 82.2 1391.2 81.3 1393.6 80.4C1395.9 79.4 1398.2 78.5 1400.6 77.5C1402.9 76.6 1405.2 75.6 1407.5 74.6C1409.9 73.6 1412.2 72.6 1414.5 71.6C1416.9 70.6 1419.2 69.6 1421.5 68.6C1423.9 67.6 1426.2 66.6 1428.5 65.6C1430.9 64.6 1433.2 63.7 1435.5 62.7C1437.9 61.7 1440.2 60.8 1442.5 59.9C1444.8 59 1447.2 58.1 1449.5 57.2C1451.8 56.4 1454.2 55.5 1456.5 54.7C1458.8 54 1460.3 53.2 1463.5 52.5C1466.7 51.8 1472.9 50.8 1476 50.8C1479.1 50.7 1480.4 50.5 1482.2 52C1484.1 53.5 1485.9 54.9 1487.2 60C1488.6 65.1 1489.6 71.7 1490.5 82.5C1491.4 93.3 1492.1 109.6 1492.8 125C1493.4 140.4 1493.8 156.2 1494.2 175C1494.7 193.8 1495 216.3 1495.2 237.5C1495.4 258.7 1495.6 291.2 1495.7 302" stroke="#00f" stroke-width="1.65"/>
</g>
<g font-family='"Liberation Sans", sans-serif' font-size="27" text-anchor="middle" fill="#000">
<text x="885.91" y="556.3">-50</text>
<text x="1008.37" y="556.3">0</text>
<text x="1130.43" y="556.3">50</text>
<text x="1252.48" y="556.3">100</text>
<text x="1374.54" y="556.3">150</text>
<text x="1496.6" y="556.3">200</text>
</g>
<text x="1178.45" y="609.7" font-family='"Liberation Sans", sans-serif' font-size="30.5" text-anchor="middle" fill="#000">temperature /<tspan font-size="19" dy="-16">o</tspan><tspan dy="16">C</tspan></text>
<text transform="translate(820 82.5) rotate(-90)" font-family='"Liberation Sans", sans-serif' font-size="30.5" text-anchor="end" letter-spacing="-0.12" fill="#000">heat flow translated / mW mg<tspan font-size="18.3" dy="-17.08">-1</tspan></text>
<text transform="translate(788.6 30.5) scale(1.06 1)" font-family='"Liberation Serif", serif' font-weight="bold" font-size="40" fill="#000">(b)</text>
<text x="867.3" y="28" font-family='"Liberation Sans", sans-serif' font-size="25.7" fill="#000">RU/S/3</text>
<text x="1437.8" y="26.5" font-family='"Liberation Sans", sans-serif' font-size="24.3" fill="#000">^exo</text>
<path d="M867 51.75 H926.25" stroke="#000" stroke-width="1.7" fill="none"/>
<path d="M867 83.92 H926.25" stroke="#f00" stroke-width="1.7" fill="none"/>
<path d="M867 116.09 H926.25" stroke="#0f0" stroke-width="1.7" fill="none"/>
<path d="M867 148.26 H926.25" stroke="#00f" stroke-width="1.7" fill="none"/>
<g font-family='"Liberation Sans", sans-serif' font-size="25.9" fill="#000">
<text x="933.4" y="60.5">1st heating</text>
<text x="933.4" y="92.67">2nd heating</text>
<text x="933.4" y="124.84">3rd heating</text>
<text x="933.4" y="157.01">1st cooling</text>
</g>
<path d="M908.25 421.25 H899.25 V496.75 H908.25" stroke="#000" stroke-width="1.9" fill="none"/>
<text x="913.6" y="467" font-family='"Liberation Sans", sans-serif' font-size="24.2" fill="#000">0,1 [mW mg<tspan font-size="12.58" dy="-13.55">-1</tspan><tspan dy="13.55">]</tspan></text>
</g>
<g class="panel" id="panel-c">
<clipPath id="cc"><rect x="74.1" y="676.3" width="637.1" height="517.7"/></clipPath>
<rect x="75.3" y="677.3" width="634.7" height="515.7" fill="none" stroke="#000" stroke-width="2"/>
<path d="M99.71 1193 v10.6M160.74 1193 v5.8M221.77 1193 v10.6M282.8 1193 v5.8M343.83 1193 v10.6M404.86 1193 v5.8M465.88 1193 v10.6M526.91 1193 v5.8M587.94 1193 v10.6M648.97 1193 v5.8M710 1193 v10.6" stroke="#000" stroke-width="2" fill="none"/>
<g clip-path="url(#cc)" fill="none" stroke-linejoin="round" stroke-linecap="butt">
<path d="M75.3 880C75.5 885.8 76 904.9 76.4 914.5C76.7 924.1 77.1 931.3 77.4 937.5C77.8 943.7 78 946.6 78.5 951.6C79.1 956.7 80 963 80.7 967.9C81.4 972.7 82 977.4 82.6 980.5C83.1 983.7 83.4 984.8 84.2 986.7C84.9 988.6 86 990.4 87 991.8C88.1 993.2 88.2 994 90.6 995C93 996 98.3 997.2 101.2 998C104.2 998.7 105.9 999 108.2 999.5C110.5 1000 112.8 1000.5 115.1 1001C117.4 1001.5 119.7 1002 122 1002.5C124.3 1003 126.6 1003.5 128.9 1004C131.2 1004.5 133.5 1004.9 135.9 1005.4C138.2 1005.9 140.5 1006.4 142.8 1006.9C145.1 1007.4 147.4 1007.9 149.7 1008.4C152 1008.9 154.3 1009.4 156.6 1010C158.9 1010.5 161.2 1011 163.5 1011.5C165.8 1012.1 168.2 1012.6 170.5 1013.1C172.8 1013.7 175.1 1014.2 177.4 1014.8C179.7 1015.4 182 1015.9 184.3 1016.5C186.6 1017.1 188.9 1017.7 191.2 1018.3C193.5 1018.9 195.8 1019.6 198.1 1020.2C200.4 1020.8 202.8 1021.5 205.1 1022.2C207.4 1022.8 209.7 1023.5 212 1024.2C214.3 1024.9 216.6 1025.6 218.9 1026.4C221.2 1027.1 223.5 1027.9 225.8 1028.7C228.1 1029.5 230.4 1030.3 232.7 1031.1C235.1 1031.9 237.4 1032.8 239.7 1033.6C242 1034.5 244.3 1035.4 246.6 1036.3C248.9 1037.2 251.2 1038.2 253.5 1039.1C255.8 1040.1 258.1 1041 260.4 1042C262.7 1043 265 1044 267.3 1045.1C269.7 1046.1 272 1047.1 274.3 1048.2C276.6 1049.3 278.9 1050.3 281.2 1051.4C283.5 1052.5 285.8 1053.7 288.1 1054.8C290.4 1055.9 292.7 1057 295 1058.2C297.3 1059.4 299.6 1060.5 302 1061.7C304.3 1062.9 306.6 1064.1 308.9 1065.3C311.2 1066.5 313.5 1067.7 315.8 1068.9C318.1 1070.1 320.4 1071.4 322.7 1072.6C325 1073.9 327.3 1075.1 329.6 1076.4C331.9 1077.6 334.2 1078.9 336.6 1080.2C338.9 1081.5 341.2 1082.7 343.5 1084C345.8 1085.3 348.1 1086.6 350.4 1087.9C352.7 1089.2 355 1090.5 357.3 1091.8C359.6 1093.1 361.9 1094.4 364.2 1095.7C366.5 1097.1 368.9 1098.4 371.2 1099.7C373.5 1101 375.8 1102.3 378.1 1103.6C380.4 1105 381.3 1105.9 385 1107.6C388.7 1109.3 396 1112.3 400 1113.8C404 1115.2 406.2 1116.4 408.8 1116.4C411.2 1116.4 412.9 1115.7 415 1114C417.1 1112.3 419.2 1109.6 421.2 1106.2C423.3 1102.9 425.2 1098.5 427.5 1093.8C429.8 1089 432.1 1082.7 435 1077.5C437.9 1072.3 441.2 1067.1 445 1062.5C448.8 1057.9 453.3 1053.7 457.5 1050C461.7 1046.3 465.8 1043 470 1040.5C474.2 1038 477.9 1036.7 482.5 1035C487.1 1033.3 493.8 1031.5 497.5 1030.5C501.2 1029.5 502.5 1029.8 505 1029.2C507.5 1028.8 509.6 1027.6 512.5 1027.5C515.4 1027.4 519.6 1028 522.5 1028.8C525.4 1029.5 527.1 1029.8 530 1031.8C532.9 1033.7 536.7 1037.1 540 1040.5C543.3 1043.9 547.1 1048.6 550 1052.2C552.9 1055.8 554.8 1058.8 557.1 1062.1C559.5 1065.3 561.9 1068.5 564.3 1071.6C566.7 1074.8 569 1077.8 571.4 1080.8C573.8 1083.8 576.2 1086.7 578.6 1089.5C581 1092.3 583.3 1095.1 585.7 1097.7C588.1 1100.4 590.5 1103 592.9 1105.4C595.2 1107.9 597.6 1110.3 600 1112.6C602.4 1114.9 604.8 1117.1 607.1 1119.2C609.5 1121.3 611.9 1123.3 614.3 1125.1C616.7 1127 619 1128.8 621.4 1130.4C623.8 1132.1 626.2 1133.6 628.6 1135C631 1136.4 633.3 1137.7 635.7 1138.9C638.1 1140.1 640.5 1141.1 642.9 1142C645.2 1142.9 648 1143.4 650 1144.3C652 1145.1 650.8 1145.8 655 1147C659.2 1148.2 668.3 1150 675 1151.2C681.7 1152.5 689.7 1153.7 695 1154.5C700.3 1155.3 705 1156 707 1156.2L708.5 1148" stroke="#000" stroke-width="1.65"/>
<path d="M75.3 880C75.5 885.3 75.9 902.8 76.2 911.6C76.6 920.4 76.9 927 77.2 932.6C77.5 938.3 77.6 941 78.1 945.6C78.6 950.2 79.5 956 80 960.4C80.6 964.9 81.2 969.2 81.7 972C82.2 974.9 82.4 976 83.1 977.7C83.7 979.4 84.7 981.1 85.6 982.4C86.6 983.6 86.1 984.3 88.8 985.3C91.4 986.3 98 987.6 101.2 988.3C104.5 989.1 105.9 989.3 108.2 989.9C110.6 990.4 112.9 990.9 115.2 991.4C117.6 991.9 119.9 992.4 122.2 992.9C124.6 993.4 126.9 993.9 129.2 994.5C131.6 995 133.9 995.5 136.2 996C138.6 996.5 140.9 997 143.2 997.5C145.6 998 147.9 998.5 150.2 999C152.5 999.5 154.9 1000 157.2 1000.5C159.5 1001.1 161.9 1001.6 164.2 1002.1C166.5 1002.6 168.9 1003.1 171.2 1003.6C173.5 1004.1 175.9 1004.6 178.2 1005.1C180.5 1005.6 182.9 1006.1 185.2 1006.6C187.5 1007.1 189.9 1007.6 192.2 1008.1C194.5 1008.6 196.9 1009.1 199.2 1009.6C201.5 1010.1 203.8 1010.6 206.2 1011.1C208.5 1011.7 210.8 1012.2 213.2 1012.7C215.5 1013.2 217.8 1013.7 220.2 1014.2C222.5 1014.7 224.8 1015.2 227.2 1015.7C229.5 1016.2 231.8 1016.7 234.2 1017.2C236.5 1017.7 238.8 1018.2 241.2 1018.7C243.5 1019.2 245.8 1019.7 248.1 1020.2C250.5 1020.8 252.8 1021.3 255.1 1021.8C257.5 1022.3 259.8 1022.8 262.1 1023.3C264.5 1023.8 266.8 1024.3 269.1 1024.8C271.5 1025.3 273.8 1025.8 276.1 1026.3C278.5 1026.9 280.8 1027.4 283.1 1027.9C285.5 1028.4 287.8 1028.9 290.1 1029.4C292.5 1029.9 294.8 1030.4 297.1 1031C299.4 1031.5 301.8 1032 304.1 1032.5C306.4 1033 308.8 1033.5 311.1 1034.1C313.4 1034.6 315.8 1035.1 318.1 1035.6C320.4 1036.1 322.8 1036.7 325.1 1037.2C327.4 1037.7 329.8 1038.2 332.1 1038.8C334.4 1039.3 336.8 1039.8 339.1 1040.3C341.4 1040.9 343.8 1041.4 346.1 1041.9C348.4 1042.4 350.7 1043 353.1 1043.5C355.4 1044.1 357.7 1044.6 360.1 1045.1C362.4 1045.7 364.7 1046.2 367.1 1046.8C369.4 1047.3 371.7 1047.8 374.1 1048.4C376.4 1048.9 378.7 1049.5 381.1 1050C383.4 1050.6 385.7 1051.2 388.1 1051.7C390.4 1052.3 392.7 1052.8 395 1053.4C397.4 1054 399.7 1054.5 402 1055.1C404.4 1055.7 406.7 1056.3 409 1056.8C411.4 1057.4 413.7 1058 416 1058.6C418.4 1059.2 420.7 1059.8 423 1060.4C425.4 1061 427.7 1061.6 430 1062.2C432.4 1062.8 434.7 1063.4 437 1064C439.4 1064.6 441.7 1065.2 444 1065.8C446.3 1066.5 448.7 1067.1 451 1067.7C453.3 1068.3 455.7 1069 458 1069.6C460.3 1070.3 461.3 1070.2 465 1071.5C468.7 1072.9 476.2 1076.1 480 1078C483.8 1079.9 484.6 1081.4 487.5 1083C490.4 1084.6 494.2 1085.6 497.5 1087.5C500.8 1089.4 504.2 1091.9 507.5 1094.5C510.8 1097.1 513.8 1100.2 517.5 1103C521.2 1105.8 526.7 1109.4 530 1111.3C533.3 1113.3 534.7 1113.7 537.1 1114.7C539.4 1115.8 541.8 1116.7 544.2 1117.7C546.5 1118.6 548.9 1119.4 551.2 1120.2C553.6 1121 556 1121.7 558.3 1122.4C560.7 1123 563 1123.7 565.4 1124.3C567.8 1124.8 570.1 1125.4 572.5 1125.9C574.8 1126.4 577.2 1126.9 579.6 1127.3C581.9 1127.8 584.3 1128.2 586.6 1128.7C589 1129.1 591.4 1129.5 593.7 1129.9C596.1 1130.3 598.4 1130.7 600.8 1131.1C603.2 1131.5 605.5 1131.9 607.9 1132.3C610.2 1132.7 612.6 1133.1 615 1133.5C617.3 1133.9 619.7 1134.3 622 1134.7C624.4 1135.2 626.8 1135.6 629.1 1136C631.5 1136.4 633.8 1136.8 636.2 1137.2C638.6 1137.7 640.9 1138.1 643.3 1138.5C645.6 1138.9 648 1139.3 650.4 1139.8C652.7 1140.2 655.1 1140.6 657.4 1141.1C659.8 1141.5 662.2 1141.9 664.5 1142.3C666.9 1142.8 669.2 1143.2 671.6 1143.6C674 1144.1 676.3 1144.5 678.7 1144.9C681 1145.4 683.4 1145.8 685.8 1146.2C688.1 1146.7 690.5 1147.1 692.8 1147.5C695.2 1148 697.6 1148.4 699.9 1148.8C702.3 1149.3 705.8 1149.9 707 1150.2L708.8 1092" stroke="#f00" stroke-width="1.65"/>
<path d="M75.3 880C75.5 885.2 75.9 902.6 76.2 911.3C76.6 920 76.9 926.6 77.2 932.2C77.5 937.8 77.6 940.4 78.1 945C78.6 949.6 79.5 955.4 80 959.8C80.6 964.1 81.2 968.4 81.7 971.2C82.2 974.1 82.4 975.2 83.1 976.9C83.7 978.6 84.7 980.2 85.6 981.5C86.6 982.7 86.1 983.4 88.8 984.4C91.4 985.4 98 986.7 101.2 987.4C104.5 988.2 105.9 988.4 108.2 989C110.6 989.5 112.9 990 115.2 990.5C117.6 991 119.9 991.5 122.2 992C124.6 992.6 126.9 993.1 129.2 993.6C131.6 994.1 133.9 994.6 136.2 995.1C138.6 995.6 140.9 996.1 143.2 996.6C145.6 997.1 147.9 997.6 150.2 998.1C152.5 998.6 154.9 999.2 157.2 999.7C159.5 1000.2 161.9 1000.7 164.2 1001.2C166.5 1001.7 168.9 1002.2 171.2 1002.7C173.5 1003.2 175.9 1003.7 178.2 1004.2C180.5 1004.7 182.9 1005.2 185.2 1005.7C187.5 1006.2 189.9 1006.7 192.2 1007.2C194.5 1007.7 196.9 1008.2 199.2 1008.7C201.5 1009.2 203.8 1009.7 206.2 1010.2C208.5 1010.7 210.8 1011.2 213.2 1011.7C215.5 1012.2 217.8 1012.7 220.2 1013.2C222.5 1013.7 224.8 1014.2 227.2 1014.7C229.5 1015.2 231.8 1015.7 234.2 1016.2C236.5 1016.7 238.8 1017.2 241.2 1017.7C243.5 1018.2 245.8 1018.8 248.1 1019.3C250.5 1019.8 252.8 1020.3 255.1 1020.8C257.5 1021.3 259.8 1021.8 262.1 1022.3C264.5 1022.8 266.8 1023.3 269.1 1023.8C271.5 1024.3 273.8 1024.8 276.1 1025.3C278.5 1025.8 280.8 1026.3 283.1 1026.8C285.5 1027.3 287.8 1027.8 290.1 1028.4C292.5 1028.9 294.8 1029.4 297.1 1029.9C299.4 1030.4 301.8 1030.9 304.1 1031.4C306.4 1031.9 308.8 1032.4 311.1 1032.9C313.4 1033.5 315.8 1034 318.1 1034.5C320.4 1035 322.8 1035.5 325.1 1036C327.4 1036.6 329.8 1037.1 332.1 1037.6C334.4 1038.1 336.8 1038.6 339.1 1039.1C341.4 1039.7 343.8 1040.2 346.1 1040.7C348.4 1041.2 350.7 1041.8 353.1 1042.3C355.4 1042.8 357.7 1043.3 360.1 1043.9C362.4 1044.4 364.7 1044.9 367.1 1045.5C369.4 1046 371.7 1046.5 374.1 1047.1C376.4 1047.6 378.7 1048.2 381.1 1048.7C383.4 1049.2 385.7 1049.8 388.1 1050.3C390.4 1050.9 392.7 1051.4 395 1052C397.4 1052.5 399.7 1053.1 402 1053.6C404.4 1054.2 406.7 1054.7 409 1055.3C411.4 1055.9 413.7 1056.4 416 1057C418.4 1057.6 420.7 1058.1 423 1058.7C425.4 1059.3 427.7 1059.8 430 1060.4C432.4 1061 434.7 1061.6 437 1062.2C439.4 1062.7 441.7 1063.3 444 1063.9C446.3 1064.5 448.7 1065.1 451 1065.7C453.3 1066.3 455.7 1066.9 458 1067.5C460.3 1068.1 461.3 1068.1 465 1069.3C468.7 1070.5 476.2 1072.5 480 1074.5C483.8 1076.5 484.6 1079.6 487.5 1081.2C490.4 1082.9 494.2 1082.9 497.5 1084.2C500.8 1085.6 505 1087.8 507.5 1089.2C510 1090.7 510 1091.4 512.5 1093C515 1094.6 518.8 1096.2 522.5 1098.8C526.2 1101.3 531.8 1106.3 535 1108.6C538.2 1110.8 539.6 1111.2 541.9 1112.4C544.3 1113.5 546.6 1114.6 548.9 1115.6C551.2 1116.6 553.5 1117.6 555.8 1118.4C558.1 1119.3 560.4 1120.1 562.8 1120.8C565.1 1121.6 567.4 1122.3 569.7 1122.9C572 1123.6 574.3 1124.1 576.6 1124.7C579 1125.3 581.3 1125.8 583.6 1126.3C585.9 1126.8 588.2 1127.2 590.5 1127.7C592.8 1128.1 595.1 1128.5 597.5 1128.9C599.8 1129.4 602.1 1129.8 604.4 1130.2C606.7 1130.6 609 1131 611.3 1131.4C613.7 1131.8 616 1132.2 618.3 1132.6C620.6 1133 622.9 1133.4 625.2 1133.8C627.5 1134.2 629.8 1134.6 632.2 1135C634.5 1135.4 636.8 1135.7 639.1 1136.1C641.4 1136.5 643.7 1136.9 646 1137.3C648.4 1137.7 650.7 1138.1 653 1138.5C655.3 1138.8 657.6 1139.2 659.9 1139.6C662.2 1140 664.5 1140.4 666.9 1140.8C669.2 1141.2 671.5 1141.6 673.8 1142C676.1 1142.4 678.4 1142.8 680.7 1143.2C683.1 1143.6 685.4 1144 687.7 1144.4C690 1144.8 692.3 1145.2 694.6 1145.6C696.9 1146 699.2 1146.4 701.6 1146.9C703.9 1147.3 707.3 1147.9 708.5 1148.2" stroke="#0f0" stroke-width="1.65"/>
<path d="M75.6 956.2L77.9 917.2L77.9 917.2C81.6 916.5 95.2 913.8 100 912.9C104.8 912 104.7 912 107 911.6C109.3 911.1 111.6 910.7 114 910.2C116.3 909.8 118.6 909.3 121 908.9C123.3 908.4 125.6 907.9 128 907.5C130.3 907 132.6 906.6 134.9 906.1C137.3 905.6 139.6 905.2 141.9 904.7C144.3 904.2 146.6 903.7 148.9 903.3C151.2 902.8 153.6 902.3 155.9 901.8C158.2 901.3 160.6 900.9 162.9 900.4C165.2 899.9 167.6 899.4 169.9 898.9C172.2 898.4 174.5 898 176.9 897.5C179.2 897 181.5 896.5 183.9 896C186.2 895.5 188.5 895 190.8 894.5C193.2 894 195.5 893.5 197.8 893C200.2 892.5 202.5 892 204.8 891.5C207.1 891 209.5 890.5 211.8 890C214.1 889.5 216.5 889 218.8 888.5C221.1 888 223.5 887.5 225.8 887C228.1 886.5 230.4 886 232.8 885.5C235.1 884.9 237.4 884.4 239.8 883.9C242.1 883.4 244.4 882.9 246.7 882.4C249.1 881.9 251.4 881.4 253.7 880.9C256.1 880.4 258.4 879.8 260.7 879.3C263.1 878.8 265.4 878.3 267.7 877.8C270 877.3 272.4 876.8 274.7 876.3C277 875.8 279.4 875.3 281.7 874.7C284 874.2 286.3 873.7 288.7 873.2C291 872.7 293.3 872.2 295.7 871.7C298 871.2 300.3 870.7 302.7 870.2C305 869.7 307.3 869.1 309.6 868.6C312 868.1 314.3 867.6 316.6 867.1C319 866.6 321.3 866.1 323.6 865.6C325.9 865.1 328.3 864.6 330.6 864.1C332.9 863.6 335.3 863.1 337.6 862.6C339.9 862.1 342.2 861.6 344.6 861.1C346.9 860.6 349.2 860.1 351.6 859.6C353.9 859.1 356.2 858.6 358.6 858.2C360.9 857.7 363.2 857.2 365.5 856.7C367.9 856.2 370.2 855.7 372.5 855.2C374.9 854.7 377.2 854.3 379.5 853.8C381.8 853.3 384.2 852.8 386.5 852.3C388.8 851.8 391.2 851.3 393.5 850.8C395.8 850.3 398.2 849.8 400.5 849.3C402.8 848.8 405.1 848.3 407.5 847.8C409.8 847.3 412.1 846.7 414.5 846.2C416.8 845.7 419.1 845.1 421.4 844.6C423.8 844 426.1 843.5 428.4 842.9C430.8 842.3 433.1 841.8 435.4 841.1C437.8 840.5 440.1 839.9 442.4 839.2C444.7 838.6 447.1 837.9 449.4 837.2C451.7 836.5 454.1 835.7 456.4 834.9C458.7 834.1 461 833.3 463.4 832.4C465.7 831.5 468 830.5 470.4 829.5C472.7 828.5 475 827.5 477.3 826.3C479.7 825.2 482 824 484.3 822.8C486.7 821.6 489 820.3 491.3 819C493.7 817.7 496 816.3 498.3 814.9C500.6 813.6 503 812.2 505.3 810.8C507.6 809.3 510 807.9 512.3 806.5C514.6 805.1 516.9 803.7 519.3 802.3C521.6 800.9 523.9 799.5 526.3 798.2C528.6 796.9 530.9 795.7 533.3 794.5C535.6 793.3 537.9 792.1 540.2 791.1C542.6 790.1 544.9 789.1 547.2 788.3C549.6 787.4 551.9 786.6 554.2 785.9C556.5 785.2 558.9 784.6 561.2 784.1C563.5 783.6 565.9 783.1 568.2 782.7C570.5 782.2 572.9 781.9 575.2 781.5C577.5 781.2 579.8 780.8 582.2 780.5C584.5 780.2 586.8 779.9 589.2 779.6C591.5 779.2 593.8 778.9 596.1 778.5C598.5 778.2 600.8 777.8 603.1 777.5C605.5 777.1 607.8 776.7 610.1 776.4C612.4 776 614.8 775.6 617.1 775.2C619.4 774.8 621.8 774.4 624.1 774C626.4 773.6 628.8 773.2 631.1 772.8C633.4 772.4 635.7 772 638.1 771.6C640.4 771.3 642.7 770.9 645.1 770.5C647.4 770.1 649.7 769.7 652 769.3C654.4 768.9 656.7 768.5 659 768.1C661.4 767.8 663.7 767.4 666 767C668.4 766.7 670.7 766.3 673 766C675.3 765.6 677.2 765.2 680 764.9C682.8 764.7 687.3 764.2 690 764.5C692.7 764.8 694.6 765.5 696.2 767C697.9 768.5 698.9 769.5 700 773.8C701.1 778 702.2 784.4 703 792.5C703.8 800.6 704.3 809.2 705 822.5C705.7 835.8 706.4 855.8 707 872.5C707.6 889.2 708.1 905.4 708.5 922.5C708.9 939.6 709.1 962.1 709.2 975C709.4 987.9 709.4 995.8 709.4 1000" stroke="#00f" stroke-width="1.65"/>
</g>
<g font-family='"Liberation Sans", sans-serif' font-size="27" text-anchor="middle" fill="#000">
<text x="99.31" y="1230.4">-50</text>
<text x="221.77" y="1230.4">0</text>
<text x="343.83" y="1230.4">50</text>
<text x="465.88" y="1230.4">100</text>
<text x="587.94" y="1230.4">150</text>
<text x="710" y="1230.4">200</text>
</g>
<text x="391.85" y="1283.8" font-family='"Liberation Sans", sans-serif' font-size="30.5" text-anchor="middle" fill="#000">temperature /<tspan font-size="19" dy="-16">o</tspan><tspan dy="16">C</tspan></text>
<text transform="translate(33.75 756.25) rotate(-90)" font-family='"Liberation Sans", sans-serif' font-size="30.5" text-anchor="end" letter-spacing="-0.12" fill="#000">heat flow translated / mW mg<tspan font-size="18.3" dy="-17.08">-1</tspan></text>
<text transform="translate(0.3 685.5) scale(1.06 1)" font-family='"Liberation Serif", serif' font-weight="bold" font-size="40" fill="#000">(c)</text>
<text x="81" y="698.75" font-family='"Liberation Sans", sans-serif' font-size="25.7" fill="#000">PL/GD/1</text>
<text x="653" y="700.75" font-family='"Liberation Sans", sans-serif' font-size="24.3" fill="#000">^exo</text>
<path d="M80 722.5 H139.5" stroke="#000" stroke-width="1.7" fill="none"/>
<path d="M80 754.6 H139.5" stroke="#f00" stroke-width="1.7" fill="none"/>
<path d="M80 786.7 H139.5" stroke="#0f0" stroke-width="1.7" fill="none"/>
<path d="M80 818.8 H139.5" stroke="#00f" stroke-width="1.7" fill="none"/>
<g font-family='"Liberation Sans", sans-serif' font-size="25.9" fill="#000">
<text x="146.9" y="731.75">1st heating</text>
<text x="146.9" y="763.85">2nd heating</text>
<text x="146.9" y="795.95">3rd heating</text>
<text x="146.9" y="828.05">1st cooling</text>
</g>
<path d="M111.5 1098 H102.5 V1174.25 H111.5" stroke="#000" stroke-width="1.9" fill="none"/>
<text x="115.4" y="1143" font-family='"Liberation Sans", sans-serif' font-size="24.2" fill="#000">0,1 [mW mg<tspan font-size="12.58" dy="-13.55">-1</tspan><tspan dy="13.55">]</tspan></text>
</g>
<g class="panel" id="panel-d">
<clipPath id="cd"><rect x="860.7" y="676.3" width="637.2" height="517.7"/></clipPath>
<rect x="861.9" y="677.3" width="634.8" height="515.7" fill="none" stroke="#000" stroke-width="2"/>
<path d="M886.32 1193 v10.6M947.35 1193 v5.8M1008.39 1193 v10.6M1069.43 1193 v5.8M1130.47 1193 v10.6M1191.51 1193 v5.8M1252.55 1193 v10.6M1313.58 1193 v5.8M1374.62 1193 v10.6M1435.66 1193 v5.8M1496.7 1193 v10.6" stroke="#000" stroke-width="2" fill="none"/>
<g clip-path="url(#cd)" fill="none" stroke-linejoin="round" stroke-linecap="butt">
<path d="M861.9 893.1C862.1 898.1 862.6 914.9 862.9 923.3C863.3 931.7 863.6 938 864 943.4C864.3 948.8 864.5 951.4 865 955.8C865.5 960.2 866.4 965.8 867.1 970C867.7 974.2 868.3 978.3 868.9 981.1C869.4 983.8 869.7 984.9 870.4 986.5C871.1 988.1 872.1 989.7 873.2 990.9C874.2 992.1 874.3 992.8 876.6 993.8C878.9 994.7 884.3 995.7 887.2 996.4C890.2 997 891.9 997.2 894.2 997.6C896.6 998 898.9 998.4 901.2 998.9C903.5 999.3 905.9 999.7 908.2 1000.2C910.5 1000.6 912.9 1001.1 915.2 1001.6C917.5 1002.1 919.8 1002.5 922.2 1003C924.5 1003.5 926.8 1004 929.2 1004.5C931.5 1005 933.8 1005.5 936.1 1006C938.5 1006.6 940.8 1007.1 943.1 1007.6C945.5 1008.1 947.8 1008.7 950.1 1009.2C952.4 1009.8 954.8 1010.3 957.1 1010.9C959.4 1011.4 961.8 1012 964.1 1012.6C966.4 1013.1 968.7 1013.7 971.1 1014.3C973.4 1014.8 975.7 1015.4 978.1 1016C980.4 1016.6 982.7 1017.2 985 1017.7C987.4 1018.3 989.7 1018.9 992 1019.5C994.4 1020.1 996.7 1020.7 999 1021.3C1001.3 1021.9 1003.7 1022.5 1006 1023.1C1008.3 1023.7 1010.7 1024.3 1013 1024.9C1015.3 1025.6 1017.6 1026.2 1020 1026.8C1022.3 1027.4 1024.6 1028.1 1027 1028.7C1029.3 1029.4 1031.6 1030.1 1033.9 1030.8C1036.3 1031.4 1038.6 1032.2 1040.9 1032.9C1043.3 1033.6 1045.6 1034.4 1047.9 1035.2C1050.2 1036 1052.6 1036.8 1054.9 1037.6C1057.2 1038.5 1059.6 1039.4 1061.9 1040.3C1064.2 1041.2 1066.5 1042.2 1068.9 1043.2C1071.2 1044.2 1073.5 1045.2 1075.9 1046.3C1078.2 1047.4 1080.5 1048.5 1082.8 1049.7C1085.2 1050.9 1087.5 1052.1 1089.8 1053.4C1092.2 1054.7 1094.5 1056.1 1096.8 1057.5C1099.1 1058.9 1101.5 1060.4 1103.8 1061.9C1106.1 1063.4 1108.5 1065 1110.8 1066.6C1113.1 1068.2 1115.4 1069.9 1117.8 1071.6C1120.1 1073.2 1122.4 1075 1124.8 1076.7C1127.1 1078.4 1129.4 1080.1 1131.7 1081.8C1134.1 1083.5 1136.4 1085.2 1138.7 1086.9C1141 1088.6 1143.4 1090.3 1145.7 1091.9C1148 1093.5 1150.4 1095.1 1152.7 1096.6C1155 1098.1 1157.3 1099.6 1159.7 1101C1162 1102.4 1164.3 1103.8 1166.7 1105C1169 1106.3 1171.3 1107.4 1173.6 1108.5C1176 1109.6 1178.3 1110.5 1180.6 1111.4C1183 1112.2 1185.3 1113 1187.6 1113.6C1189.9 1114.2 1192.3 1114.7 1194.6 1115C1196.9 1115.2 1199.3 1115.4 1201.6 1115.3C1203.9 1115.1 1206.2 1114.8 1208.6 1114.2C1210.9 1113.6 1213.2 1112.8 1215.6 1111.7C1217.9 1110.5 1220.2 1109.1 1222.5 1107.5C1224.9 1105.9 1227.2 1104 1229.5 1102.1C1231.9 1100.1 1234.2 1097.9 1236.5 1095.7C1238.8 1093.5 1240.3 1091.3 1243.5 1088.9C1246.7 1086.5 1252.2 1082.8 1256 1081.2C1259.8 1079.7 1262.7 1080.6 1266 1079.5C1269.3 1078.4 1272.9 1076 1276 1074.5C1279.1 1073 1282 1071.4 1284.8 1070.5C1287.5 1069.6 1289.1 1070.5 1292.2 1069.2C1295.4 1068 1299.5 1065 1303.5 1063C1307.5 1061 1312.2 1058.8 1316 1057C1319.8 1055.2 1323.3 1053.5 1326 1052.5C1328.7 1051.5 1329.3 1052.6 1332.2 1051.2C1335.2 1049.9 1339.5 1046.7 1343.5 1044.5C1347.5 1042.3 1352.2 1039.7 1356 1038C1359.8 1036.3 1363.1 1035.2 1366 1034.5C1368.9 1033.8 1371 1033.6 1373.5 1034C1376 1034.4 1378.1 1035.2 1381 1037C1383.9 1038.8 1387.7 1041.4 1391 1045C1394.3 1048.6 1397.7 1053.8 1401 1058.8C1404.3 1063.8 1407.7 1069.6 1411 1075C1414.3 1080.4 1417.7 1086.2 1421 1091.2C1424.3 1096.2 1427.2 1100.5 1431 1105C1434.8 1109.5 1439.3 1114.5 1443.5 1118C1447.7 1121.5 1451.4 1123.8 1456 1126.2C1460.6 1128.7 1466 1130.7 1471 1132.5C1476 1134.3 1482.2 1136 1486 1137C1489.8 1138 1492.7 1138.5 1494 1138.8L1495.5 1086" stroke="#000" stroke-width="1.65"/>
<path d="M861.9 893.1C862.1 897.7 862.5 913.2 862.8 920.9C863.2 928.6 863.5 934.5 863.8 939.5C864.1 944.4 864.3 946.8 864.7 950.9C865.2 954.9 866.1 960 866.7 963.9C867.3 967.8 867.8 971.6 868.3 974.1C868.8 976.7 869.1 977.6 869.7 979.1C870.4 980.6 871.3 982.1 872.3 983.2C873.2 984.3 872.9 984.8 875.4 985.8C877.9 986.8 884.1 988.1 887.2 988.9C890.4 989.7 891.9 989.9 894.3 990.5C896.6 991 898.9 991.5 901.3 992C903.6 992.5 905.9 993 908.3 993.5C910.6 994 912.9 994.5 915.3 995C917.6 995.5 919.9 996 922.3 996.5C924.6 997 926.9 997.5 929.3 998C931.6 998.5 933.9 999 936.3 999.5C938.6 1000 941 1000.5 943.3 1001C945.6 1001.5 948 1002 950.3 1002.5C952.6 1003 955 1003.4 957.3 1003.9C959.6 1004.4 962 1004.9 964.3 1005.4C966.6 1005.9 969 1006.3 971.3 1006.8C973.6 1007.3 976 1007.8 978.3 1008.3C980.6 1008.7 983 1009.2 985.3 1009.7C987.7 1010.2 990 1010.6 992.3 1011.1C994.7 1011.6 997 1012.1 999.3 1012.5C1001.7 1013 1004 1013.5 1006.3 1013.9C1008.7 1014.4 1011 1014.9 1013.3 1015.4C1015.7 1015.8 1018 1016.3 1020.3 1016.8C1022.7 1017.2 1025 1017.7 1027.3 1018.2C1029.7 1018.6 1032 1019.1 1034.3 1019.5C1036.7 1020 1039 1020.5 1041.4 1020.9C1043.7 1021.4 1046 1021.9 1048.4 1022.3C1050.7 1022.8 1053 1023.2 1055.4 1023.7C1057.7 1024.2 1060 1024.6 1062.4 1025.1C1064.7 1025.6 1067 1026 1069.4 1026.5C1071.7 1026.9 1074 1027.4 1076.4 1027.9C1078.7 1028.3 1081 1028.8 1083.4 1029.2C1085.7 1029.7 1088.1 1030.1 1090.4 1030.6C1092.7 1031.1 1095.1 1031.5 1097.4 1032C1099.7 1032.4 1102.1 1032.9 1104.4 1033.4C1106.7 1033.8 1109.1 1034.3 1111.4 1034.7C1113.7 1035.2 1116.1 1035.7 1118.4 1036.1C1120.7 1036.6 1123.1 1037 1125.4 1037.5C1127.7 1038 1130.1 1038.4 1132.4 1038.9C1134.8 1039.3 1137.1 1039.8 1139.4 1040.3C1141.8 1040.7 1144.1 1041.2 1146.4 1041.7C1148.8 1042.1 1151.1 1042.6 1153.4 1043C1155.8 1043.5 1158.1 1044 1160.4 1044.4C1162.8 1044.9 1165.1 1045.4 1167.4 1045.8C1169.8 1046.3 1172.1 1046.8 1174.4 1047.2C1176.8 1047.7 1179.1 1048.2 1181.4 1048.6C1183.8 1049.1 1186.1 1049.6 1188.5 1050.1C1190.8 1050.5 1193.1 1051 1195.5 1051.5C1197.8 1051.9 1200.1 1052.4 1202.5 1052.9C1204.8 1053.4 1207.1 1053.8 1209.5 1054.3C1211.8 1054.8 1214.1 1055.3 1216.5 1055.8C1218.8 1056.2 1221.1 1056.7 1223.5 1057.2C1225.8 1057.7 1228.1 1058.2 1230.5 1058.7C1232.8 1059.1 1235.2 1059.6 1237.5 1060.1C1239.8 1060.6 1242.2 1061.1 1244.5 1061.6C1246.8 1062.1 1249.2 1062.6 1251.5 1063.1C1253.8 1063.6 1256.1 1063.2 1258.5 1064.5C1260.9 1065.9 1263.5 1069.9 1266 1071.2C1268.5 1072.6 1270.2 1072.3 1273.5 1072.5C1276.8 1072.7 1282.2 1072 1286 1072.5C1289.8 1073 1292.7 1075.1 1296 1075.8C1299.3 1076.4 1302.2 1075.6 1306 1076.2C1309.8 1076.9 1315.2 1078.6 1318.5 1079.4C1321.8 1080.2 1323.2 1080.3 1325.5 1080.9C1327.8 1081.4 1330.2 1081.9 1332.5 1082.5C1334.8 1083.1 1337.2 1083.8 1339.5 1084.5C1341.8 1085.2 1344.2 1085.9 1346.5 1086.7C1348.8 1087.5 1351.2 1088.3 1353.5 1089.1C1355.8 1090 1358.2 1090.9 1360.5 1091.9C1362.8 1092.8 1365.2 1093.9 1367.5 1094.9C1369.8 1096 1372.2 1097.1 1374.5 1098.2C1376.8 1099.3 1379.2 1100.5 1381.5 1101.7C1383.8 1102.9 1386.2 1104.2 1388.5 1105.4C1390.8 1106.6 1393.2 1107.9 1395.5 1109.1C1397.8 1110.3 1400.2 1111.6 1402.5 1112.8C1404.8 1114 1407.2 1115.2 1409.5 1116.4C1411.8 1117.5 1414.2 1118.7 1416.5 1119.8C1418.8 1120.8 1421.2 1121.9 1423.5 1122.9C1425.8 1123.9 1428.2 1124.8 1430.5 1125.7C1432.8 1126.6 1435.2 1127.5 1437.5 1128.3C1439.8 1129.1 1442.2 1129.9 1444.5 1130.6C1446.8 1131.3 1449.2 1132 1451.5 1132.6C1453.8 1133.3 1456.2 1133.9 1458.5 1134.4C1460.8 1135 1463.2 1135.5 1465.5 1136C1467.8 1136.5 1470.2 1137 1472.5 1137.4C1474.8 1137.8 1477.2 1138.2 1479.5 1138.5C1481.8 1138.9 1484.2 1139.2 1486.5 1139.5C1488.8 1139.8 1492.3 1140.1 1493.5 1140.2L1495.2 1090" stroke="#f00" stroke-width="1.65"/>
<path d="M861.9 893.1C862.1 897.7 862.5 913 862.8 920.7C863.2 928.3 863.5 934.1 863.8 939C864.1 944 864.3 946.3 864.7 950.4C865.2 954.4 866.1 959.5 866.7 963.3C867.3 967.2 867.8 970.9 868.3 973.4C868.8 975.9 869.1 976.9 869.7 978.4C870.4 979.9 871.3 981.3 872.3 982.4C873.2 983.5 872.9 984.1 875.4 985C877.9 985.9 884.1 987.3 887.2 988.1C890.4 988.9 891.9 989.1 894.3 989.7C896.6 990.2 898.9 990.7 901.3 991.2C903.6 991.7 905.9 992.2 908.3 992.7C910.6 993.2 912.9 993.7 915.3 994.2C917.6 994.7 919.9 995.2 922.3 995.7C924.6 996.2 926.9 996.7 929.3 997.2C931.6 997.7 933.9 998.2 936.3 998.7C938.6 999.2 941 999.7 943.3 1000.2C945.6 1000.7 948 1001.2 950.3 1001.7C952.6 1002.1 955 1002.6 957.3 1003.1C959.6 1003.6 962 1004.1 964.3 1004.6C966.6 1005 969 1005.5 971.3 1006C973.6 1006.5 976 1007 978.3 1007.4C980.6 1007.9 983 1008.4 985.3 1008.9C987.7 1009.3 990 1009.8 992.3 1010.3C994.7 1010.8 997 1011.2 999.3 1011.7C1001.7 1012.2 1004 1012.7 1006.3 1013.1C1008.7 1013.6 1011 1014.1 1013.3 1014.5C1015.7 1015 1018 1015.5 1020.3 1015.9C1022.7 1016.4 1025 1016.9 1027.3 1017.3C1029.7 1017.8 1032 1018.3 1034.3 1018.7C1036.7 1019.2 1039 1019.7 1041.4 1020.1C1043.7 1020.6 1046 1021.1 1048.4 1021.5C1050.7 1022 1053 1022.4 1055.4 1022.9C1057.7 1023.4 1060 1023.8 1062.4 1024.3C1064.7 1024.8 1067 1025.2 1069.4 1025.7C1071.7 1026.1 1074 1026.6 1076.4 1027.1C1078.7 1027.5 1081 1028 1083.4 1028.4C1085.7 1028.9 1088.1 1029.4 1090.4 1029.8C1092.7 1030.3 1095.1 1030.7 1097.4 1031.2C1099.7 1031.7 1102.1 1032.1 1104.4 1032.6C1106.7 1033 1109.1 1033.5 1111.4 1034C1113.7 1034.4 1116.1 1034.9 1118.4 1035.3C1120.7 1035.8 1123.1 1036.3 1125.4 1036.7C1127.7 1037.2 1130.1 1037.6 1132.4 1038.1C1134.8 1038.6 1137.1 1039 1139.4 1039.5C1141.8 1040 1144.1 1040.4 1146.4 1040.9C1148.8 1041.3 1151.1 1041.8 1153.4 1042.3C1155.8 1042.7 1158.1 1043.2 1160.4 1043.7C1162.8 1044.1 1165.1 1044.6 1167.4 1045.1C1169.8 1045.5 1172.1 1046 1174.4 1046.5C1176.8 1046.9 1179.1 1047.4 1181.4 1047.9C1183.8 1048.3 1186.1 1048.8 1188.5 1049.3C1190.8 1049.7 1193.1 1050.2 1195.5 1050.7C1197.8 1051.2 1200.1 1051.6 1202.5 1052.1C1204.8 1052.6 1207.1 1053 1209.5 1053.5C1211.8 1054 1214.1 1054.5 1216.5 1055C1218.8 1055.4 1221.1 1055.9 1223.5 1056.4C1225.8 1056.9 1228.1 1057.3 1230.5 1057.8C1232.8 1058.3 1235.2 1058.8 1237.5 1059.3C1239.8 1059.8 1242.2 1060.3 1244.5 1060.7C1246.8 1061.2 1249.2 1061.7 1251.5 1062.2C1253.8 1062.7 1256.1 1062.5 1258.5 1063.7C1260.9 1064.9 1263.1 1068.1 1266 1069.2C1268.9 1070.4 1271 1070.1 1276 1070.8C1281 1071.4 1288.9 1071.8 1296 1073C1303.1 1074.2 1313.6 1077.1 1318.5 1078.2C1323.4 1079.3 1323.2 1079.1 1325.5 1079.6C1327.9 1080.2 1330.2 1080.7 1332.6 1081.3C1334.9 1081.8 1337.3 1082.4 1339.7 1083C1342 1083.6 1344.4 1084.3 1346.7 1085C1349 1085.7 1351.4 1086.4 1353.8 1087.1C1356.1 1087.9 1358.5 1088.7 1360.8 1089.6C1363.1 1090.4 1365.5 1091.3 1367.8 1092.3C1370.2 1093.3 1372.6 1094.3 1374.9 1095.3C1377.2 1096.4 1379.6 1097.5 1382 1098.7C1384.3 1099.8 1386.7 1101 1389 1102.2C1391.3 1103.3 1393.7 1104.6 1396 1105.8C1398.4 1107 1400.8 1108.2 1403.1 1109.4C1405.4 1110.6 1407.8 1111.9 1410.2 1113.1C1412.5 1114.3 1414.9 1115.5 1417.2 1116.6C1419.5 1117.8 1421.9 1118.9 1424.2 1120C1426.6 1121.1 1429 1122.1 1431.3 1123.1C1433.6 1124.2 1436 1125.1 1438.3 1126.1C1440.7 1127 1443.1 1127.9 1445.4 1128.7C1447.8 1129.6 1450.1 1130.4 1452.5 1131.1C1454.8 1131.8 1457.2 1132.5 1459.5 1133.1C1461.8 1133.7 1464.2 1134.3 1466.5 1134.8C1468.9 1135.4 1471.2 1135.8 1473.6 1136.3C1475.9 1136.7 1478.3 1137.1 1480.7 1137.5C1483 1137.8 1485.4 1138.1 1487.7 1138.4C1490 1138.8 1493.6 1139.1 1494.8 1139.3" stroke="#0f0" stroke-width="1.65"/>
<path d="M862.2 941.2L864.5 905.6L864.5 905.6C868.8 904.8 884.6 902 890 901C895.4 900 894.7 900.2 897 899.9C899.3 899.5 901.6 899.1 904 898.7C906.3 898.3 908.6 897.9 911 897.5C913.3 897.1 915.6 896.7 918 896.3C920.3 895.9 922.6 895.5 924.9 895.1C927.3 894.7 929.6 894.3 931.9 893.9C934.3 893.4 936.6 893 938.9 892.6C941.2 892.2 943.6 891.7 945.9 891.3C948.2 890.9 950.6 890.5 952.9 890C955.2 889.6 957.5 889.1 959.9 888.7C962.2 888.3 964.5 887.8 966.9 887.4C969.2 886.9 971.5 886.5 973.9 886.1C976.2 885.6 978.5 885.2 980.8 884.7C983.2 884.3 985.5 883.8 987.8 883.4C990.2 882.9 992.5 882.4 994.8 882C997.1 881.5 999.5 881.1 1001.8 880.6C1004.1 880.2 1006.5 879.7 1008.8 879.2C1011.1 878.8 1013.4 878.3 1015.8 877.9C1018.1 877.4 1020.4 876.9 1022.8 876.5C1025.1 876 1027.4 875.6 1029.8 875.1C1032.1 874.6 1034.4 874.2 1036.7 873.7C1039.1 873.2 1041.4 872.8 1043.7 872.3C1046.1 871.9 1048.4 871.4 1050.7 870.9C1053 870.5 1055.4 870 1057.7 869.6C1060 869.1 1062.4 868.6 1064.7 868.2C1067 867.7 1069.3 867.3 1071.7 866.8C1074 866.4 1076.3 865.9 1078.7 865.4C1081 865 1083.3 864.5 1085.7 864.1C1088 863.6 1090.3 863.2 1092.6 862.7C1095 862.3 1097.3 861.8 1099.6 861.4C1102 861 1104.3 860.5 1106.6 860.1C1108.9 859.6 1111.3 859.2 1113.6 858.8C1115.9 858.3 1118.3 857.9 1120.6 857.5C1122.9 857 1125.3 856.6 1127.6 856.2C1129.9 855.8 1132.2 855.3 1134.6 854.9C1136.9 854.5 1139.2 854.1 1141.6 853.7C1143.9 853.2 1146.2 852.8 1148.5 852.4C1150.9 852 1153.2 851.6 1155.5 851.2C1157.9 850.8 1160.2 850.4 1162.5 850C1164.8 849.6 1167.2 849.2 1169.5 848.8C1171.8 848.4 1174.2 848 1176.5 847.6C1178.8 847.2 1181.2 846.9 1183.5 846.5C1185.8 846.1 1188.1 845.7 1190.5 845.3C1192.8 844.9 1195.1 844.5 1197.5 844.1C1199.8 843.7 1202.1 843.3 1204.4 842.9C1206.8 842.5 1209.1 842.1 1211.4 841.7C1213.8 841.3 1216.1 840.9 1218.4 840.5C1220.7 840 1223.1 839.6 1225.4 839.2C1227.7 838.8 1230.1 838.4 1232.4 837.9C1234.7 837.5 1237.1 837.1 1239.4 836.7C1241.7 836.2 1244 835.8 1246.4 835.3C1248.7 834.9 1251 834.4 1253.4 834C1255.7 833.5 1258 833 1260.3 832.6C1262.7 832.1 1265 831.6 1267.3 831.1C1269.7 830.6 1272 830.1 1274.3 829.6C1276.7 829.1 1279 828.6 1281.3 828.1C1283.6 827.6 1286 827.1 1288.3 826.5C1290.6 826 1293 825.4 1295.3 824.9C1297.6 824.3 1299.9 823.8 1302.3 823.2C1304.6 822.6 1306.9 822 1309.3 821.4C1311.6 820.8 1313.9 820.2 1316.2 819.6C1318.6 819 1320.9 818.4 1323.2 817.8C1325.6 817.2 1327.9 816.5 1330.2 816C1332.6 815.4 1334.9 814.8 1337.2 814.2C1339.5 813.6 1341.9 813 1344.2 812.5C1346.5 811.9 1348.9 811.4 1351.2 810.9C1353.5 810.3 1355.8 809.8 1358.2 809.2C1360.5 808.5 1362.8 807.9 1365.2 807.2C1367.5 806.5 1369.8 805.7 1372.1 804.8C1374.5 804 1376.8 803 1379.1 802.1C1381.5 801.1 1383.8 800.1 1386.1 799.1C1388.5 798 1390.8 797 1393.1 795.9C1395.4 794.9 1397.8 793.8 1400.1 792.7C1402.4 791.7 1404.8 790.6 1407.1 789.6C1409.4 788.5 1411.7 787.5 1414.1 786.5C1416.4 785.5 1418.7 784.5 1421.1 783.6C1423.4 782.7 1425.7 781.8 1428 781C1430.4 780.2 1432.7 779.4 1435 778.7C1437.4 778 1439.7 777.3 1442 776.8C1444.4 776.2 1446.7 775.7 1449 775.4C1451.3 775 1452.3 775 1456 774.5C1459.7 774 1467 772.8 1471 772.5C1475 772.2 1477.5 772.2 1479.8 773C1482 773.8 1483.3 774.6 1484.8 777C1486.2 779.4 1487.5 782 1488.5 787.5C1489.5 793 1490.2 800 1491 810C1491.8 820 1492.4 832.9 1493 847.5C1493.6 862.1 1494 878.8 1494.4 897.5C1494.8 916.2 1495.2 945.1 1495.4 960C1495.6 974.9 1495.7 982.5 1495.7 987" stroke="#00f" stroke-width="1.65"/>
</g>
<g font-family='"Liberation Sans", sans-serif' font-size="27" text-anchor="middle" fill="#000">
<text x="885.92" y="1230.4">-50</text>
<text x="1008.39" y="1230.4">0</text>
<text x="1130.47" y="1230.4">50</text>
<text x="1252.55" y="1230.4">100</text>
<text x="1374.62" y="1230.4">150</text>
<text x="1496.7" y="1230.4">200</text>
</g>
<text x="1178.5" y="1283.8" font-family='"Liberation Sans", sans-serif' font-size="30.5" text-anchor="middle" fill="#000">temperature /<tspan font-size="19" dy="-16">o</tspan><tspan dy="16">C</tspan></text>
<text transform="translate(820 756.25) rotate(-90)" font-family='"Liberation Sans", sans-serif' font-size="30.5" text-anchor="end" letter-spacing="-0.12" fill="#000">heat flow translated / mW mg<tspan font-size="18.3" dy="-17.08">-1</tspan></text>
<text transform="translate(788.6 686) scale(1.06 1)" font-family='"Liberation Serif", serif' font-weight="bold" font-size="40" fill="#000">(d)</text>
<text x="866.5" y="700.75" font-family='"Liberation Sans", sans-serif' font-size="25.7" fill="#000">DE/B/28</text>
<text x="1437.8" y="700.75" font-family='"Liberation Sans", sans-serif' font-size="24.3" fill="#000">^exo</text>
<path d="M865.75 724.25 H925" stroke="#000" stroke-width="1.7" fill="none"/>
<path d="M865.75 756.35 H925" stroke="#f00" stroke-width="1.7" fill="none"/>
<path d="M865.75 788.45 H925" stroke="#0f0" stroke-width="1.7" fill="none"/>
<path d="M865.75 820.55 H925" stroke="#00f" stroke-width="1.7" fill="none"/>
<g font-family='"Liberation Sans", sans-serif' font-size="25.9" fill="#000">
<text x="932.6" y="733.25">1st heating</text>
<text x="932.6" y="765.35">2nd heating</text>
<text x="932.6" y="797.45">3rd heating</text>
<text x="932.6" y="829.55">1st cooling</text>
</g>
<path d="M902.75 1113 H893.75 V1181.25 H902.75" stroke="#000" stroke-width="1.9" fill="none"/>
<text x="906.9" y="1157.5" font-family='"Liberation Sans", sans-serif' font-size="24.2" fill="#000">0,1 [mW mg<tspan font-size="12.58" dy="-13.55">-1</tspan><tspan dy="13.55">]</tspan></text>
</g>
<g class="panel" id="panel-e">
<clipPath id="ce"><rect x="74.1" y="1359" width="637.1" height="518.3"/></clipPath>
<rect x="75.3" y="1360" width="634.7" height="516.3" fill="none" stroke="#000" stroke-width="2"/>
<path d="M99.71 1876.3 v10.6M160.74 1876.3 v5.8M221.77 1876.3 v10.6M282.8 1876.3 v5.8M343.83 1876.3 v10.6M404.86 1876.3 v5.8M465.88 1876.3 v10.6M526.91 1876.3 v5.8M587.94 1876.3 v10.6M648.97 1876.3 v5.8M710 1876.3 v10.6" stroke="#000" stroke-width="2" fill="none"/>
<g clip-path="url(#ce)" fill="none" stroke-linejoin="round" stroke-linecap="butt">
<path d="M75.3 1545C75.5 1550.2 76 1567.5 76.3 1576.2C76.7 1584.9 77 1591.4 77.4 1597C77.7 1602.6 77.9 1605.2 78.4 1609.8C78.9 1614.4 79.8 1620.1 80.5 1624.5C81.1 1628.8 81.7 1633.1 82.3 1635.9C82.8 1638.7 83.1 1639.8 83.8 1641.5C84.5 1643.2 85.5 1644.8 86.6 1646.1C87.6 1647.3 87.6 1648.2 90 1649C92.4 1649.8 98.2 1650.3 101.2 1650.8C104.3 1651.4 105.9 1651.7 108.2 1652.1C110.5 1652.6 112.9 1653 115.2 1653.5C117.5 1653.9 119.8 1654.4 122.2 1654.8C124.5 1655.3 126.8 1655.7 129.1 1656.2C131.5 1656.7 133.8 1657.1 136.1 1657.6C138.4 1658.1 140.8 1658.5 143.1 1659C145.4 1659.5 147.7 1660 150.1 1660.5C152.4 1660.9 154.7 1661.4 157 1661.9C159.4 1662.4 161.7 1662.9 164 1663.4C166.3 1663.9 168.6 1664.4 171 1664.9C173.3 1665.4 175.6 1665.9 177.9 1666.4C180.3 1666.9 182.6 1667.4 184.9 1667.9C187.2 1668.4 189.6 1668.9 191.9 1669.4C194.2 1670 196.5 1670.5 198.9 1671C201.2 1671.5 203.5 1672 205.8 1672.5C208.2 1673.1 210.5 1673.6 212.8 1674.1C215.1 1674.6 217.5 1675.1 219.8 1675.7C222.1 1676.2 224.4 1676.7 226.8 1677.2C229.1 1677.8 231.4 1678.3 233.7 1678.8C236 1679.3 238.4 1679.8 240.7 1680.4C243 1680.9 245.3 1681.4 247.7 1681.9C250 1682.5 252.3 1683 254.6 1683.5C257 1684 259.3 1684.6 261.6 1685.1C263.9 1685.6 266.3 1686.1 268.6 1686.7C270.9 1687.2 273.2 1687.7 275.6 1688.2C277.9 1688.7 280.2 1689.3 282.5 1689.8C284.9 1690.3 287.2 1690.8 289.5 1691.3C291.8 1691.8 294.1 1692.4 296.5 1692.9C298.8 1693.4 301.1 1693.9 303.4 1694.4C305.8 1694.9 308.1 1695.4 310.4 1695.9C312.7 1696.4 315.1 1696.9 317.4 1697.4C319.7 1697.9 322 1698.4 324.4 1698.9C326.7 1699.4 329 1699.9 331.3 1700.4C333.7 1700.9 336 1701.4 338.3 1701.9C340.6 1702.4 343 1702.8 345.3 1703.3C347.6 1703.8 349.9 1704.3 352.2 1704.8C354.6 1705.3 356.9 1705.8 359.2 1706.3C361.5 1706.7 363.9 1707.2 366.2 1707.7C368.5 1708.2 370.8 1708.7 373.2 1709.2C375.5 1709.7 377.8 1710.2 380.1 1710.7C382.5 1711.1 384.8 1711.6 387.1 1712.1C389.4 1712.6 391.8 1713.1 394.1 1713.6C396.4 1714.1 398.7 1714.6 401.1 1715.1C403.4 1715.6 405.7 1716.1 408 1716.6C410.4 1717.1 411.8 1717.3 415 1718.1C418.2 1718.9 423.8 1721 427.5 1721.2C431.2 1721.5 434.2 1720.5 437.5 1719.5C440.8 1718.5 444.2 1716.4 447.5 1715.5C450.8 1714.6 452.9 1714.2 457.5 1714.2C462.1 1714.3 467.9 1715.3 475 1715.8C482.1 1716.2 492.5 1717.1 500 1717C507.5 1716.9 513.3 1716 520 1715.2C526.7 1714.5 534.2 1713 540 1712.5C545.8 1712 549.6 1712 555 1712C560.4 1712 567.5 1712 572.5 1712.8C577.5 1713.5 581.5 1714.4 585 1716.2C588.5 1718.1 591.2 1720.6 593.8 1723.8C596.2 1726.9 598.1 1730.2 600 1735C601.9 1739.8 603.5 1745 605 1752.5C606.5 1760 607.6 1770 608.8 1780C609.9 1790 611 1804.4 612 1812.5C613 1820.6 613.9 1825.7 614.5 1828.8C615.1 1831.8 615.2 1831 615.8 1830.8C616.2 1830.5 616.7 1831 617.5 1827.5C618.3 1824 619.7 1817.5 620.8 1810C621.8 1802.5 622.6 1791.7 623.8 1782.5C624.9 1773.3 626.4 1761.7 627.5 1755C628.6 1748.3 629.5 1745.3 630.5 1742.5C631.5 1739.7 632.6 1738.3 633.8 1738C634.9 1737.7 635.6 1738.3 637.5 1740.5C639.4 1742.7 642.1 1747.2 645 1751.2C647.9 1755.3 651.7 1760.8 655 1765C658.3 1769.2 661.7 1773.4 665 1776.8C668.3 1780.1 671.2 1782.7 675 1785C678.8 1787.3 683.3 1789 687.5 1790.5C691.7 1792 696.8 1793 700 1793.8C703.2 1794.5 705.8 1794.8 707 1795L708.8 1738.8" stroke="#000" stroke-width="1.65"/>
<path d="M75.3 1545.3C75.5 1550.3 75.9 1566.7 76.2 1575C76.6 1583.2 76.9 1589.4 77.2 1594.7C77.5 1600 77.6 1602.5 78.1 1606.9C78.6 1611.2 79.5 1616.7 80 1620.8C80.6 1624.9 81.2 1629 81.7 1631.7C82.2 1634.4 82.4 1635.4 83.1 1637C83.7 1638.6 84.7 1640.1 85.6 1641.3C86.6 1642.5 86.1 1643.1 88.8 1644.1C91.4 1645.1 98 1646.6 101.2 1647.4C104.5 1648.1 105.9 1648.2 108.2 1648.7C110.6 1649.1 112.9 1649.6 115.2 1650C117.5 1650.5 119.9 1650.9 122.2 1651.4C124.5 1651.9 126.9 1652.3 129.2 1652.8C131.5 1653.2 133.8 1653.7 136.2 1654.2C138.5 1654.6 140.8 1655.1 143.1 1655.6C145.5 1656.1 147.8 1656.5 150.1 1657C152.5 1657.5 154.8 1658 157.1 1658.5C159.4 1659 161.8 1659.4 164.1 1659.9C166.4 1660.4 168.8 1660.9 171.1 1661.4C173.4 1661.9 175.7 1662.4 178.1 1662.9C180.4 1663.4 182.7 1663.9 185 1664.4C187.4 1664.9 189.7 1665.4 192 1665.9C194.4 1666.4 196.7 1666.9 199 1667.4C201.3 1667.9 203.7 1668.4 206 1668.9C208.3 1669.4 210.6 1669.9 213 1670.4C215.3 1671 217.6 1671.5 220 1672C222.3 1672.5 224.6 1673 226.9 1673.5C229.3 1674.1 231.6 1674.6 233.9 1675.1C236.2 1675.6 238.6 1676.1 240.9 1676.7C243.2 1677.2 245.6 1677.7 247.9 1678.2C250.2 1678.8 252.5 1679.3 254.9 1679.8C257.2 1680.3 259.5 1680.9 261.9 1681.4C264.2 1681.9 266.5 1682.5 268.8 1683C271.2 1683.5 273.5 1684.1 275.8 1684.6C278.1 1685.1 280.5 1685.7 282.8 1686.2C285.1 1686.7 287.5 1687.2 289.8 1687.8C292.1 1688.3 294.4 1688.9 296.8 1689.4C299.1 1689.9 301.4 1690.5 303.8 1691C306.1 1691.5 308.4 1692.1 310.7 1692.6C313.1 1693.1 315.4 1693.7 317.7 1694.2C320 1694.7 322.4 1695.3 324.7 1695.8C327 1696.3 329.4 1696.9 331.7 1697.4C334 1697.9 336.3 1698.5 338.7 1699C341 1699.5 343.3 1700.1 345.6 1700.6C348 1701.1 350.3 1701.7 352.6 1702.2C355 1702.7 357.3 1703.3 359.6 1703.8C361.9 1704.3 364.3 1704.9 366.6 1705.4C368.9 1705.9 371.2 1706.5 373.6 1707C375.9 1707.5 378.2 1708 380.6 1708.6C382.9 1709.1 385.2 1709.6 387.5 1710.1C389.9 1710.7 392.2 1711.2 394.5 1711.7C396.9 1712.2 399.2 1712.8 401.5 1713.3C403.8 1713.8 406.2 1714.4 408.5 1714.9C410.8 1715.4 413.1 1715.9 415.5 1716.5C417.8 1717 420.1 1717.5 422.5 1718.1C424.8 1718.6 427.1 1719.2 429.4 1719.7C431.8 1720.3 434.1 1720.8 436.4 1721.4C438.8 1721.9 441.1 1722.5 443.4 1723C445.7 1723.6 448.1 1724.2 450.4 1724.7C452.7 1725.3 455 1725.9 457.4 1726.5C459.7 1727.1 462 1727.7 464.4 1728.3C466.7 1728.9 469 1729.5 471.3 1730.1C473.7 1730.8 476 1731.4 478.3 1732C480.6 1732.7 483 1733.3 485.3 1734C487.6 1734.7 490 1735.5 492.3 1736.2C494.6 1737 496.9 1737.8 499.3 1738.7C501.6 1739.5 503.9 1740.5 506.2 1741.5C508.6 1742.5 510.9 1743.6 513.2 1744.7C515.6 1745.9 517.9 1747.1 520.2 1748.4C522.5 1749.7 524.9 1751.1 527.2 1752.5C529.5 1753.8 531.9 1755.3 534.2 1756.6C536.5 1758 538.8 1759.4 541.2 1760.8C543.5 1762.1 545.8 1763.4 548.1 1764.6C550.5 1765.9 552.8 1767.1 555.1 1768.1C557.5 1769.2 559.8 1770.2 562.1 1771.1C564.4 1772 566.8 1772.8 569.1 1773.6C571.4 1774.3 573.8 1775 576.1 1775.6C578.4 1776.2 580.7 1776.7 583.1 1777.3C585.4 1777.8 587.7 1778.3 590 1778.7C592.4 1779.2 594.7 1779.6 597 1780C599.4 1780.4 601.7 1780.8 604 1781.2C606.3 1781.5 608.7 1781.9 611 1782.2C613.3 1782.5 615.6 1782.8 618 1783.2C620.3 1783.5 622.6 1783.8 625 1784.1C627.3 1784.4 629.6 1784.7 631.9 1785.1C634.3 1785.4 636.6 1785.7 638.9 1786.1C641.2 1786.4 643.6 1786.8 645.9 1787.2C648.2 1787.6 650.6 1788 652.9 1788.4C655.2 1788.9 657.5 1789.4 659.9 1789.8C662.2 1790.3 664.5 1790.8 666.9 1791.3C669.2 1791.8 671.5 1792.3 673.8 1792.8C676.2 1793.2 678.5 1793.7 680.8 1794.2C683.1 1794.7 685.5 1795.1 687.8 1795.5C690.1 1796 692.5 1796.4 694.8 1796.7C697.1 1797.1 699.7 1797.6 701.8 1797.7C703.8 1797.7 706.1 1797.1 707 1797L709 1741.2" stroke="#f00" stroke-width="1.65"/>
<path d="M75.3 1545C75.5 1549.9 75.9 1566.4 76.2 1574.6C76.6 1582.9 76.9 1589.1 77.2 1594.4C77.5 1599.7 77.6 1602.2 78.1 1606.5C78.6 1610.9 79.5 1616.3 80 1620.4C80.6 1624.6 81.2 1628.6 81.7 1631.3C82.2 1634 82.4 1635 83.1 1636.6C83.7 1638.3 84.7 1639.8 85.6 1641C86.6 1642.2 86.1 1642.7 88.8 1643.8C91.4 1644.8 98 1646.2 101.2 1647C104.5 1647.8 105.9 1647.9 108.2 1648.3C110.6 1648.8 112.9 1649.2 115.2 1649.7C117.5 1650.1 119.9 1650.6 122.2 1651C124.5 1651.5 126.9 1652 129.2 1652.4C131.5 1652.9 133.8 1653.4 136.2 1653.8C138.5 1654.3 140.8 1654.8 143.1 1655.2C145.5 1655.7 147.8 1656.2 150.1 1656.7C152.5 1657.2 154.8 1657.6 157.1 1658.1C159.4 1658.6 161.8 1659.1 164.1 1659.6C166.4 1660.1 168.8 1660.6 171.1 1661C173.4 1661.5 175.7 1662 178.1 1662.5C180.4 1663 182.7 1663.5 185 1664C187.4 1664.5 189.7 1665 192 1665.5C194.4 1666 196.7 1666.5 199 1667C201.3 1667.5 203.7 1668.1 206 1668.6C208.3 1669.1 210.6 1669.6 213 1670.1C215.3 1670.6 217.6 1671.1 220 1671.6C222.3 1672.2 224.6 1672.7 226.9 1673.2C229.3 1673.7 231.6 1674.2 233.9 1674.8C236.2 1675.3 238.6 1675.8 240.9 1676.3C243.2 1676.8 245.6 1677.4 247.9 1677.9C250.2 1678.4 252.5 1678.9 254.9 1679.5C257.2 1680 259.5 1680.5 261.9 1681.1C264.2 1681.6 266.5 1682.1 268.8 1682.6C271.2 1683.2 273.5 1683.7 275.8 1684.2C278.1 1684.8 280.5 1685.3 282.8 1685.8C285.1 1686.4 287.5 1686.9 289.8 1687.4C292.1 1688 294.4 1688.5 296.8 1689C299.1 1689.6 301.4 1690.1 303.8 1690.6C306.1 1691.2 308.4 1691.7 310.7 1692.2C313.1 1692.8 315.4 1693.3 317.7 1693.8C320 1694.4 322.4 1694.9 324.7 1695.5C327 1696 329.4 1696.5 331.7 1697.1C334 1697.6 336.3 1698.1 338.7 1698.7C341 1699.2 343.3 1699.7 345.6 1700.3C348 1700.8 350.3 1701.3 352.6 1701.9C355 1702.4 357.3 1702.9 359.6 1703.5C361.9 1704 364.3 1704.5 366.6 1705C368.9 1705.6 371.2 1706.1 373.6 1706.6C375.9 1707.2 378.2 1707.7 380.6 1708.2C382.9 1708.7 385.2 1709.3 387.5 1709.8C389.9 1710.3 392.2 1710.8 394.5 1711.4C396.9 1711.9 399.2 1712.4 401.5 1712.9C403.8 1713.5 406.2 1714 408.5 1714.5C410.8 1715.1 413.1 1715.6 415.5 1716.1C417.8 1716.7 420.1 1717.2 422.5 1717.7C424.8 1718.3 427.1 1718.8 429.4 1719.4C431.8 1719.9 434.1 1720.4 436.4 1721C438.8 1721.6 441.1 1722.1 443.4 1722.7C445.7 1723.3 448.1 1723.8 450.4 1724.4C452.7 1725 455 1725.6 457.4 1726.2C459.7 1726.7 462 1727.3 464.4 1727.9C466.7 1728.6 469 1729.2 471.3 1729.8C473.7 1730.4 476 1731 478.3 1731.7C480.6 1732.3 483 1733 485.3 1733.7C487.6 1734.4 490 1735.1 492.3 1735.9C494.6 1736.6 496.9 1737.4 499.3 1738.3C501.6 1739.2 503.9 1740.1 506.2 1741.1C508.6 1742.1 510.9 1743.2 513.2 1744.4C515.6 1745.5 517.9 1746.8 520.2 1748.1C522.5 1749.4 524.9 1750.8 527.2 1752.1C529.5 1753.5 531.9 1754.9 534.2 1756.3C536.5 1757.7 538.8 1759.1 541.2 1760.4C543.5 1761.7 545.8 1763.1 548.1 1764.3C550.5 1765.5 552.8 1766.7 555.1 1767.8C557.5 1768.9 559.8 1769.9 562.1 1770.8C564.4 1771.7 566.8 1772.5 569.1 1773.2C571.4 1774 573.8 1774.6 576.1 1775.2C578.4 1775.8 580.7 1776.4 583.1 1776.9C585.4 1777.5 587.7 1777.9 590 1778.4C592.4 1778.8 594.7 1779.3 597 1779.7C599.4 1780.1 601.7 1780.4 604 1780.8C606.3 1781.2 608.7 1781.5 611 1781.8C613.3 1782.2 615.6 1782.5 618 1782.8C620.3 1783.1 622.6 1783.4 625 1783.8C627.3 1784.1 629.6 1784.4 631.9 1784.7C634.3 1785 636.6 1785.4 638.9 1785.7C641.2 1786.1 643.6 1786.5 645.9 1786.8C648.2 1787.2 650.6 1787.7 652.9 1788.1C655.2 1788.5 657.5 1789 659.9 1789.5C662.2 1790 664.5 1790.4 666.9 1790.9C669.2 1791.4 671.5 1791.9 673.8 1792.4C676.2 1792.9 678.5 1793.4 680.8 1793.8C683.1 1794.3 685.5 1794.8 687.8 1795.2C690.1 1795.6 692.5 1796 694.8 1796.4C697.1 1796.7 699.4 1797 701.8 1797.3C704.1 1797.6 707.6 1797.9 708.8 1798" stroke="#0f0" stroke-width="1.65"/>
<path d="M75.6 1616.9L77.9 1579.4L77.9 1579.4C81.6 1578.7 95.2 1575.9 100 1575C104.8 1574 104.7 1574 107 1573.5C109.3 1573 111.6 1572.5 114 1572C116.3 1571.5 118.6 1571 120.9 1570.5C123.3 1570 125.6 1569.5 127.9 1569C130.2 1568.5 132.6 1568.1 134.9 1567.6C137.2 1567.1 139.5 1566.6 141.9 1566.1C144.2 1565.6 146.5 1565.1 148.8 1564.7C151.2 1564.2 153.5 1563.7 155.8 1563.2C158.1 1562.7 160.5 1562.3 162.8 1561.8C165.1 1561.3 167.4 1560.8 169.8 1560.3C172.1 1559.9 174.4 1559.4 176.7 1558.9C179.1 1558.4 181.4 1557.9 183.7 1557.5C186 1557 188.4 1556.5 190.7 1556C193 1555.5 195.3 1555.1 197.7 1554.6C200 1554.1 202.3 1553.6 204.7 1553.2C207 1552.7 209.3 1552.2 211.6 1551.7C214 1551.2 216.3 1550.8 218.6 1550.3C220.9 1549.8 223.3 1549.3 225.6 1548.8C227.9 1548.4 230.2 1547.9 232.6 1547.4C234.9 1546.9 237.2 1546.4 239.5 1546C241.9 1545.5 244.2 1545 246.5 1544.5C248.8 1544 251.2 1543.5 253.5 1543.1C255.8 1542.6 258.1 1542.1 260.5 1541.6C262.8 1541.1 265.1 1540.6 267.4 1540.1C269.8 1539.6 272.1 1539.1 274.4 1538.7C276.7 1538.2 279.1 1537.7 281.4 1537.2C283.7 1536.7 286 1536.2 288.4 1535.7C290.7 1535.2 293 1534.7 295.3 1534.2C297.7 1533.7 300 1533.2 302.3 1532.7C304.7 1532.2 307 1531.7 309.3 1531.2C311.6 1530.7 314 1530.2 316.3 1529.7C318.6 1529.1 320.9 1528.6 323.3 1528.1C325.6 1527.6 327.9 1527.1 330.2 1526.6C332.6 1526.1 334.9 1525.5 337.2 1525C339.5 1524.5 341.9 1524 344.2 1523.4C346.5 1522.9 348.8 1522.4 351.2 1521.9C353.5 1521.3 355.8 1520.8 358.1 1520.3C360.5 1519.7 362.8 1519.2 365.1 1518.6C367.4 1518.1 369.8 1517.6 372.1 1517C374.4 1516.5 376.7 1515.9 379.1 1515.4C381.4 1514.8 383.7 1514.3 386 1513.7C388.4 1513.1 390.7 1512.6 393 1512C395.3 1511.5 398.8 1510.6 400 1510.3L400 1510.4C400.6 1509.8 402.9 1507.3 403.8 1507C404.6 1506.7 403.8 1509 405 1508.8C406.2 1508.5 409.6 1506 411.2 1505.8C412.9 1505.5 413.5 1507.3 415 1507C416.5 1506.7 418.3 1505.2 420 1503.8C421.7 1502.3 424.2 1499.2 425 1498.2L425 1498.2C427.1 1497.9 434.3 1496.8 437.5 1496.3C440.7 1495.7 442.2 1495.3 444.5 1494.8C446.8 1494.3 449.1 1493.9 451.5 1493.4C453.8 1493 456.1 1492.5 458.5 1492C460.8 1491.5 463.1 1491.1 465.4 1490.6C467.8 1490.1 470.1 1489.6 472.4 1489C474.8 1488.5 477.1 1488 479.4 1487.4C481.7 1486.8 484.1 1486.2 486.4 1485.6C488.7 1484.9 491.1 1484.3 493.4 1483.5C495.7 1482.8 498 1482.1 500.4 1481.3C502.7 1480.5 505 1479.6 507.4 1478.7C509.7 1477.8 512 1476.9 514.3 1475.9C516.7 1474.9 519 1473.8 521.3 1472.7C523.7 1471.6 526 1470.5 528.3 1469.4C530.6 1468.3 533 1467.1 535.3 1466C537.6 1464.9 540 1463.8 542.3 1462.8C544.6 1461.8 546.9 1460.7 549.3 1459.8C551.6 1458.9 553.9 1458 556.2 1457.2C558.6 1456.5 560.9 1455.8 563.2 1455.2C565.6 1454.5 567.9 1454 570.2 1453.5C572.5 1453 574.9 1452.5 577.2 1452.1C579.5 1451.7 581.9 1451.3 584.2 1450.9C586.5 1450.5 588.8 1450.1 591.2 1449.8C593.5 1449.4 595.8 1449 598.2 1448.6C600.5 1448.3 602.8 1447.9 605.1 1447.5C607.5 1447.1 609.8 1446.7 612.1 1446.3C614.5 1445.9 616.8 1445.5 619.1 1445C621.4 1444.6 623.8 1444.2 626.1 1443.8C628.4 1443.3 630.8 1442.9 633.1 1442.4C635.4 1442 637.7 1441.6 640.1 1441.1C642.4 1440.7 644.7 1440.2 647.1 1439.8C649.4 1439.3 651.7 1438.8 654 1438.4C656.4 1438 658.7 1437.5 661 1437.1C663.4 1436.6 665.7 1436.2 668 1435.8C670.3 1435.3 671.8 1435 675 1434.5C678.2 1434 684.4 1432.9 687.5 1432.8C690.6 1432.6 691.9 1432.5 693.8 1433.8C695.6 1435 697.4 1436.5 698.8 1440C700.1 1443.5 701 1447.5 702 1455C703 1462.5 703.8 1472.9 704.5 1485C705.2 1497.1 705.9 1512.1 706.5 1527.5C707.1 1542.9 707.6 1558.8 708 1577.5C708.4 1596.2 708.7 1627.1 708.9 1640C709.1 1652.9 709.2 1652.5 709.2 1655" stroke="#00f" stroke-width="1.65"/>
</g>
<g font-family='"Liberation Sans", sans-serif' font-size="27" text-anchor="middle" fill="#000">
<text x="99.31" y="1913.7">-50</text>
<text x="221.77" y="1913.7">0</text>
<text x="343.83" y="1913.7">50</text>
<text x="465.88" y="1913.7">100</text>
<text x="587.94" y="1913.7">150</text>
<text x="710" y="1913.7">200</text>
</g>
<text x="391.85" y="1967.1" font-family='"Liberation Sans", sans-serif' font-size="30.5" text-anchor="middle" fill="#000">temperature /<tspan font-size="19" dy="-16">o</tspan><tspan dy="16">C</tspan></text>
<text transform="translate(37 1440) rotate(-90)" font-family='"Liberation Sans", sans-serif' font-size="30.5" text-anchor="end" letter-spacing="-0.12" fill="#000">heat flow translated / mW mg<tspan font-size="18.3" dy="-17.08">-1</tspan></text>
<text transform="translate(0.3 1371.7) scale(1.06 1)" font-family='"Liberation Serif", serif' font-weight="bold" font-size="40" fill="#000">(e)</text>
<text x="81.5" y="1386.25" font-family='"Liberation Sans", sans-serif' font-size="25.7" fill="#000">ID/SJ/7</text>
<text x="650.5" y="1388.25" font-family='"Liberation Sans", sans-serif' font-size="24.3" fill="#000">^exo</text>
<path d="M80 1409.5 H139.5" stroke="#000" stroke-width="1.7" fill="none"/>
<path d="M80 1441.6 H139.5" stroke="#f00" stroke-width="1.7" fill="none"/>
<path d="M80 1473.7 H139.5" stroke="#0f0" stroke-width="1.7" fill="none"/>
<path d="M80 1505.8 H139.5" stroke="#00f" stroke-width="1.7" fill="none"/>
<g font-family='"Liberation Sans", sans-serif' font-size="25.9" fill="#000">
<text x="146.9" y="1418.75">1st heating</text>
<text x="146.9" y="1450.85">2nd heating</text>
<text x="146.9" y="1482.95">3rd heating</text>
<text x="146.9" y="1515.05">1st cooling</text>
</g>
<path d="M108 1790.75 H99.25 V1861.75 H108" stroke="#000" stroke-width="1.9" fill="none"/>
<text x="126.9" y="1842" font-family='"Liberation Sans", sans-serif' font-size="24.2" fill="#000">0,1 [mW mg<tspan font-size="12.58" dy="-13.55">-1</tspan><tspan dy="13.55">]</tspan></text>
</g>
<g class="panel" id="panel-f">
<clipPath id="cf"><rect x="860.7" y="1359" width="637.2" height="518.3"/></clipPath>
<rect x="861.9" y="1360" width="634.8" height="516.3" fill="none" stroke="#000" stroke-width="2"/>
<path d="M886.32 1876.3 v10.6M947.35 1876.3 v5.8M1008.39 1876.3 v10.6M1069.43 1876.3 v5.8M1130.47 1876.3 v10.6M1191.51 1876.3 v5.8M1252.55 1876.3 v10.6M1313.58 1876.3 v5.8M1374.62 1876.3 v10.6M1435.66 1876.3 v5.8M1496.7 1876.3 v10.6" stroke="#000" stroke-width="2" fill="none"/>
<g clip-path="url(#cf)" fill="none" stroke-linejoin="round" stroke-linecap="butt">
<path d="M861.9 1590C862.1 1595.5 862.6 1613.8 863 1622.9C863.3 1632.1 863.7 1639 864 1644.9C864.4 1650.8 864.6 1653.5 865.1 1658.4C865.7 1663.2 866.6 1669.3 867.3 1673.8C868 1678.4 868.6 1682.9 869.2 1685.9C869.8 1688.9 870 1690.1 870.8 1691.8C871.5 1693.6 872.6 1695.4 873.7 1696.7C874.8 1698 875 1698.9 877.2 1699.8C879.5 1700.6 884.4 1701 887.2 1701.6C890.1 1702.2 891.9 1702.8 894.3 1703.3C896.6 1703.9 899 1704.4 901.3 1704.9C903.7 1705.5 906 1706 908.3 1706.5C910.7 1707 913 1707.5 915.4 1708C917.7 1708.4 920.1 1708.9 922.4 1709.4C924.8 1709.9 927.1 1710.3 929.4 1710.8C931.8 1711.2 934.1 1711.7 936.5 1712.1C938.8 1712.6 941.2 1713.1 943.5 1713.5C945.8 1714 948.2 1714.4 950.5 1714.9C952.9 1715.4 955.2 1715.8 957.6 1716.3C959.9 1716.8 962.2 1717.3 964.6 1717.8C966.9 1718.3 969.3 1718.8 971.6 1719.3C974 1719.8 976.3 1720.4 978.7 1720.9C981 1721.5 983.3 1722.1 985.7 1722.6C988 1723.2 990.4 1723.8 992.7 1724.5C995.1 1725.1 997.4 1725.8 999.8 1726.4C1002.1 1727.1 1004.4 1727.8 1006.8 1728.5C1009.1 1729.3 1011.5 1730 1013.8 1730.8C1016.2 1731.6 1018.5 1732.4 1020.8 1733.2C1023.2 1734 1025.5 1734.8 1027.9 1735.7C1030.2 1736.5 1032.6 1737.4 1034.9 1738.3C1037.2 1739.2 1039.6 1740.1 1041.9 1741C1044.3 1741.9 1046.6 1742.9 1049 1743.8C1051.3 1744.8 1053.7 1745.8 1056 1746.8C1058.3 1747.7 1060.7 1748.7 1063 1749.7C1065.4 1750.8 1067.7 1751.8 1070.1 1752.8C1072.4 1753.8 1074.8 1754.9 1077.1 1755.9C1079.4 1757 1081.8 1758 1084.1 1759.1C1086.5 1760.2 1088.8 1761.2 1091.2 1762.3C1093.5 1763.4 1095.8 1764.5 1098.2 1765.6C1100.5 1766.7 1102.9 1767.7 1105.2 1768.8C1107.6 1769.9 1109.9 1771 1112.2 1772.1C1114.6 1773.2 1116.9 1774.3 1119.3 1775.4C1121.6 1776.5 1124 1777.6 1126.3 1778.7C1128.7 1779.8 1131 1780.9 1133.3 1782C1135.7 1783.1 1138 1784.1 1140.4 1785.2C1142.7 1786.2 1145.1 1787.2 1147.4 1788.1C1149.8 1789.1 1152.1 1790 1154.4 1790.8C1156.8 1791.6 1159.1 1792.4 1161.5 1793.1C1163.8 1793.8 1166.2 1794.5 1168.5 1795C1170.8 1795.5 1173.2 1796 1175.5 1796.3C1177.9 1796.7 1180.2 1796.9 1182.6 1797C1184.9 1797.2 1187.2 1797.2 1189.6 1797.1C1191.9 1796.9 1194.3 1796.7 1196.6 1796.3C1199 1796 1201.3 1795.5 1203.7 1794.9C1206 1794.3 1208.3 1793.7 1210.7 1792.9C1213 1792.2 1215.4 1791.3 1217.7 1790.4C1220.1 1789.5 1222.4 1788.6 1224.8 1787.5C1227.1 1786.5 1229.4 1785.5 1231.8 1784.4C1234.1 1783.3 1236.5 1782.2 1238.8 1781.1C1241.2 1779.9 1243.5 1778.8 1245.8 1777.7C1248.2 1776.6 1250.5 1775.5 1252.9 1774.5C1255.2 1773.5 1257.6 1772.5 1259.9 1771.6C1262.2 1770.7 1264.6 1769.8 1266.9 1769.1C1269.3 1768.4 1271.6 1767.7 1274 1767.1C1276.3 1766.6 1278.2 1766.8 1281 1765.9C1283.8 1765 1287.9 1763.3 1291 1762C1294.1 1760.7 1297.2 1759.5 1299.8 1758C1302.2 1756.5 1303.9 1755.1 1306 1753C1308.1 1750.9 1310.2 1748.9 1312.2 1745.5C1314.3 1742.1 1316.2 1737.4 1318.5 1732.5C1320.8 1727.6 1323.5 1721.2 1326 1716.2C1328.5 1711.2 1330.6 1707.1 1333.5 1702.5C1336.4 1697.9 1340.2 1692.6 1343.5 1688.8C1346.8 1684.9 1350.6 1681.5 1353.5 1679.5C1356.4 1677.5 1358.5 1676.9 1361 1676.8C1363.5 1676.6 1365.6 1676.7 1368.5 1678.4C1371.4 1680.1 1375.2 1683 1378.5 1686.8C1381.8 1690.6 1385.2 1695.8 1388.5 1701.2C1391.8 1706.7 1395.2 1713.3 1398.5 1719.5C1401.8 1725.7 1405.2 1732.3 1408.5 1738.6C1411.8 1744.9 1414.8 1751 1418.5 1757.2C1422.2 1763.4 1426.8 1770 1431 1775.5C1435.2 1781 1439.3 1785.5 1443.5 1790.2C1447.7 1794.9 1451.8 1798.9 1456 1803.6C1460.2 1808.3 1464.3 1813.8 1468.5 1818.2C1472.7 1822.6 1477 1826.5 1481 1830C1485 1833.5 1490.1 1837.8 1492.2 1839.5C1494.4 1841.2 1493.7 1840.3 1494 1840.5L1495.5 1791.2" stroke="#000" stroke-width="1.65"/>
<path d="M861.9 1590C862.1 1595.2 862.5 1612.4 862.8 1621C863.2 1629.6 863.5 1636.1 863.8 1641.7C864.1 1647.2 864.3 1649.8 864.7 1654.4C865.2 1658.9 866.1 1664.6 866.7 1668.9C867.3 1673.2 867.8 1677.5 868.3 1680.3C868.8 1683.1 869.1 1684.2 869.7 1685.9C870.4 1687.5 871.3 1689.2 872.3 1690.4C873.2 1691.6 872.9 1692.3 875.4 1693.3C877.9 1694.3 884.1 1695.7 887.2 1696.5C890.4 1697.2 891.9 1697.3 894.2 1697.8C896.5 1698.2 898.9 1698.7 901.2 1699.1C903.5 1699.6 905.8 1700 908.2 1700.5C910.5 1701 912.8 1701.4 915.1 1701.9C917.4 1702.4 919.8 1702.9 922.1 1703.3C924.4 1703.8 926.7 1704.3 929.1 1704.8C931.4 1705.3 933.7 1705.8 936 1706.3C938.4 1706.8 940.7 1707.3 943 1707.8C945.3 1708.3 947.6 1708.8 950 1709.3C952.3 1709.8 954.6 1710.3 956.9 1710.8C959.3 1711.4 961.6 1711.9 963.9 1712.4C966.2 1712.9 968.5 1713.4 970.9 1714C973.2 1714.5 975.5 1715 977.8 1715.5C980.2 1716.1 982.5 1716.6 984.8 1717.1C987.1 1717.7 989.5 1718.2 991.8 1718.7C994.1 1719.2 996.4 1719.8 998.7 1720.3C1001.1 1720.9 1003.4 1721.4 1005.7 1721.9C1008 1722.5 1010.4 1723 1012.7 1723.5C1015 1724.1 1017.3 1724.6 1019.6 1725.1C1022 1725.7 1024.3 1726.2 1026.6 1726.8C1028.9 1727.3 1031.3 1727.8 1033.6 1728.4C1035.9 1728.9 1038.2 1729.4 1040.6 1730C1042.9 1730.5 1045.2 1731 1047.5 1731.6C1049.8 1732.1 1052.2 1732.6 1054.5 1733.2C1056.8 1733.7 1059.1 1734.2 1061.5 1734.7C1063.8 1735.3 1066.1 1735.8 1068.4 1736.3C1070.8 1736.9 1073.1 1737.4 1075.4 1737.9C1077.7 1738.4 1080 1738.9 1082.4 1739.5C1084.7 1740 1087 1740.5 1089.3 1741C1091.7 1741.6 1094 1742.1 1096.3 1742.6C1098.6 1743.1 1100.9 1743.6 1103.3 1744.1C1105.6 1744.6 1107.9 1745.1 1110.2 1745.7C1112.6 1746.2 1114.9 1746.7 1117.2 1747.2C1119.5 1747.7 1121.9 1748.2 1124.2 1748.7C1126.5 1749.2 1128.8 1749.7 1131.1 1750.2C1133.5 1750.7 1135.8 1751.2 1138.1 1751.7C1140.4 1752.2 1142.8 1752.6 1145.1 1753.1C1147.4 1753.6 1149.7 1754.1 1152 1754.6C1154.4 1755.1 1156.7 1755.6 1159 1756C1161.3 1756.5 1163.7 1757 1166 1757.5C1168.3 1757.9 1170.6 1758.4 1173 1758.9C1175.3 1759.3 1177.6 1759.8 1179.9 1760.3C1182.2 1760.7 1184.6 1761.2 1186.9 1761.6C1189.2 1762.1 1191.5 1762.5 1193.9 1763C1196.2 1763.4 1198.5 1763.9 1200.8 1764.3C1203.2 1764.8 1205.5 1765.2 1207.8 1765.6C1210.1 1766.1 1212.4 1766.5 1214.8 1766.9C1217.1 1767.4 1219.4 1767.8 1221.7 1768.3C1224.1 1768.7 1226.4 1769.2 1228.7 1769.7C1231 1770.1 1233.3 1770.6 1235.7 1771.2C1238 1771.7 1240.3 1772.2 1242.6 1772.8C1245 1773.4 1247.3 1774 1249.6 1774.6C1251.9 1775.2 1254.3 1775.9 1256.6 1776.6C1258.9 1777.3 1261.2 1778.1 1263.5 1778.9C1265.9 1779.7 1268.2 1780.5 1270.5 1781.4C1272.8 1782.3 1275.2 1783.3 1277.5 1784.3C1279.8 1785.3 1282.1 1786.3 1284.4 1787.4C1286.8 1788.4 1289.1 1789.6 1291.4 1790.7C1293.7 1791.8 1296.1 1793 1298.4 1794.2C1300.7 1795.4 1303 1796.6 1305.4 1797.9C1307.7 1799.1 1310 1800.4 1312.3 1801.6C1314.6 1802.9 1317 1804.1 1319.3 1805.4C1321.6 1806.7 1323.9 1807.9 1326.3 1809.1C1328.6 1810.4 1330.9 1811.6 1333.2 1812.8C1335.5 1814 1337.9 1815.1 1340.2 1816.2C1342.5 1817.3 1344.8 1818.4 1347.2 1819.4C1349.5 1820.5 1351.8 1821.5 1354.1 1822.4C1356.5 1823.4 1358.8 1824.3 1361.1 1825.1C1363.4 1826 1365.7 1826.7 1368.1 1827.5C1370.4 1828.2 1372.7 1828.9 1375 1829.6C1377.4 1830.2 1379.7 1830.8 1382 1831.4C1384.3 1832 1386.7 1832.5 1389 1833C1391.3 1833.5 1393.6 1834 1395.9 1834.4C1398.3 1834.9 1400.6 1835.3 1402.9 1835.7C1405.2 1836.1 1407.6 1836.5 1409.9 1836.9C1412.2 1837.2 1414.5 1837.6 1416.8 1837.9C1419.2 1838.3 1421.5 1838.6 1423.8 1839C1426.1 1839.3 1428.5 1839.7 1430.8 1840C1433.1 1840.3 1435.4 1840.7 1437.8 1841C1440.1 1841.4 1442.4 1841.8 1444.7 1842.1C1447 1842.5 1449.4 1842.9 1451.7 1843.2C1454 1843.6 1456.3 1844 1458.7 1844.4C1461 1844.8 1463.3 1845.2 1465.6 1845.6C1467.9 1846 1470.3 1846.4 1472.6 1846.9C1474.9 1847.3 1477.2 1847.8 1479.6 1848.2C1481.9 1848.7 1484.2 1849.1 1486.5 1849.6C1488.9 1850.1 1492.3 1850.8 1493.5 1851.1L1495.2 1802.5" stroke="#f00" stroke-width="1.65"/>
<path d="M861.9 1590C862.1 1595.1 862.5 1612.2 862.8 1620.8C863.2 1629.3 863.5 1635.7 863.8 1641.2C864.1 1646.8 864.3 1649.3 864.7 1653.9C865.2 1658.4 866.1 1664 866.7 1668.3C867.3 1672.6 867.8 1676.8 868.3 1679.6C868.8 1682.4 869.1 1683.4 869.7 1685.1C870.4 1686.8 871.3 1688.4 872.3 1689.6C873.2 1690.9 872.9 1691.5 875.4 1692.5C877.9 1693.5 884.1 1694.9 887.2 1695.6C890.4 1696.4 891.9 1696.5 894.2 1697C896.6 1697.4 898.9 1697.9 901.2 1698.3C903.5 1698.8 905.9 1699.3 908.2 1699.7C910.5 1700.2 912.9 1700.7 915.2 1701.2C917.5 1701.6 919.8 1702.1 922.2 1702.6C924.5 1703.1 926.8 1703.6 929.1 1704.1C931.5 1704.5 933.8 1705 936.1 1705.5C938.5 1706 940.8 1706.5 943.1 1707C945.4 1707.5 947.8 1708 950.1 1708.6C952.4 1709.1 954.8 1709.6 957.1 1710.1C959.4 1710.6 961.7 1711.1 964.1 1711.6C966.4 1712.2 968.7 1712.7 971 1713.2C973.4 1713.7 975.7 1714.3 978 1714.8C980.4 1715.3 982.7 1715.8 985 1716.4C987.3 1716.9 989.7 1717.4 992 1718C994.3 1718.5 996.6 1719 999 1719.6C1001.3 1720.1 1003.6 1720.6 1006 1721.2C1008.3 1721.7 1010.6 1722.2 1012.9 1722.8C1015.3 1723.3 1017.6 1723.8 1019.9 1724.4C1022.2 1724.9 1024.6 1725.4 1026.9 1726C1029.2 1726.5 1031.6 1727.1 1033.9 1727.6C1036.2 1728.1 1038.5 1728.7 1040.9 1729.2C1043.2 1729.7 1045.5 1730.3 1047.9 1730.8C1050.2 1731.3 1052.5 1731.9 1054.8 1732.4C1057.2 1732.9 1059.5 1733.5 1061.8 1734C1064.1 1734.5 1066.5 1735.1 1068.8 1735.6C1071.1 1736.1 1073.5 1736.6 1075.8 1737.2C1078.1 1737.7 1080.4 1738.2 1082.8 1738.8C1085.1 1739.3 1087.4 1739.8 1089.8 1740.3C1092.1 1740.8 1094.4 1741.4 1096.7 1741.9C1099.1 1742.4 1101.4 1742.9 1103.7 1743.4C1106 1744 1108.4 1744.5 1110.7 1745C1113 1745.5 1115.4 1746 1117.7 1746.5C1120 1747 1122.3 1747.5 1124.7 1748C1127 1748.6 1129.3 1749.1 1131.6 1749.6C1134 1750.1 1136.3 1750.6 1138.6 1751.1C1141 1751.6 1143.3 1752 1145.6 1752.5C1147.9 1753 1150.3 1753.5 1152.6 1754C1154.9 1754.5 1157.2 1755 1159.6 1755.5C1161.9 1755.9 1164.2 1756.4 1166.6 1756.9C1168.9 1757.4 1171.2 1757.9 1173.5 1758.3C1175.9 1758.8 1178.2 1759.3 1180.5 1759.7C1182.9 1760.2 1185.2 1760.7 1187.5 1761.1C1189.8 1761.6 1192.2 1762 1194.5 1762.5C1196.8 1762.9 1199.1 1763.4 1201.5 1763.8C1203.8 1764.3 1206.1 1764.7 1208.5 1765.1C1210.8 1765.6 1213.1 1766 1215.4 1766.5C1217.8 1766.9 1220.1 1767.3 1222.4 1767.8C1224.8 1768.2 1227.1 1768.7 1229.4 1769.2C1231.7 1769.6 1234.1 1770.1 1236.4 1770.6C1238.7 1771.1 1241 1771.7 1243.4 1772.2C1245.7 1772.8 1248 1773.3 1250.4 1773.9C1252.7 1774.5 1255 1775.1 1257.3 1775.8C1259.7 1776.5 1262 1777.2 1264.3 1777.9C1266.6 1778.6 1269 1779.4 1271.3 1780.2C1273.6 1781 1276 1781.9 1278.3 1782.8C1280.6 1783.6 1282.9 1784.6 1285.3 1785.5C1287.6 1786.5 1289.9 1787.5 1292.2 1788.5C1294.6 1789.6 1296.9 1790.6 1299.2 1791.7C1301.6 1792.8 1303.9 1793.9 1306.2 1795.1C1308.5 1796.2 1310.9 1797.4 1313.2 1798.6C1315.5 1799.8 1317.9 1801.1 1320.2 1802.3C1322.5 1803.5 1324.8 1804.8 1327.2 1806C1329.5 1807.3 1331.8 1808.5 1334.1 1809.7C1336.5 1810.9 1338.8 1812.2 1341.1 1813.3C1343.5 1814.5 1345.8 1815.6 1348.1 1816.8C1350.4 1817.9 1352.8 1818.9 1355.1 1820C1357.4 1821 1359.8 1822 1362.1 1822.9C1364.4 1823.8 1366.7 1824.7 1369.1 1825.5C1371.4 1826.3 1373.7 1827.1 1376 1827.8C1378.4 1828.5 1380.7 1829.2 1383 1829.9C1385.4 1830.5 1387.7 1831.1 1390 1831.7C1392.3 1832.2 1394.7 1832.8 1397 1833.3C1399.3 1833.8 1401.6 1834.2 1404 1834.7C1406.3 1835.1 1408.6 1835.6 1411 1836C1413.3 1836.4 1415.6 1836.7 1417.9 1837.1C1420.3 1837.5 1422.6 1837.8 1424.9 1838.2C1427.2 1838.5 1429.6 1838.8 1431.9 1839.1C1434.2 1839.5 1436.6 1839.8 1438.9 1840.1C1441.2 1840.4 1443.5 1840.7 1445.9 1841.1C1448.2 1841.4 1450.5 1841.7 1452.9 1842C1455.2 1842.4 1457.5 1842.7 1459.8 1843.1C1462.2 1843.4 1464.5 1843.8 1466.8 1844.2C1469.1 1844.6 1471.5 1845 1473.8 1845.4C1476.1 1845.9 1478.5 1846.3 1480.8 1846.8C1483.1 1847.3 1485.4 1847.8 1487.8 1848.4C1490.1 1848.9 1493.6 1849.8 1494.8 1850.1" stroke="#0f0" stroke-width="1.65"/>
<path d="M862.2 1610L864.5 1578.1L864.5 1578.1C868.8 1577.3 884.6 1574.4 890 1573.5C895.4 1572.6 894.7 1572.8 897.1 1572.5C899.4 1572.1 901.8 1571.7 904.1 1571.3C906.5 1570.9 908.8 1570.5 911.2 1570.1C913.5 1569.6 915.9 1569.2 918.2 1568.7C920.6 1568.2 922.9 1567.8 925.3 1567.3C927.6 1566.8 930 1566.3 932.4 1565.8C934.7 1565.2 937.1 1564.7 939.4 1564.2C941.8 1563.7 944.1 1563.1 946.5 1562.6C948.8 1562 951.2 1561.5 953.5 1560.9C955.9 1560.4 958.2 1559.8 960.6 1559.3C962.9 1558.7 965.3 1558.2 967.6 1557.6C970 1557.1 972.4 1556.6 974.7 1556C977.1 1555.5 979.4 1554.9 981.8 1554.4C984.1 1553.9 986.5 1553.4 988.8 1552.8C991.2 1552.3 993.5 1551.8 995.9 1551.3C998.2 1550.8 1000.6 1550.3 1002.9 1549.8C1005.3 1549.3 1007.6 1548.8 1010 1548.3C1012.4 1547.8 1014.7 1547.4 1017.1 1546.9C1019.4 1546.4 1021.8 1545.9 1024.1 1545.5C1026.5 1545 1028.8 1544.5 1031.2 1544.1C1033.5 1543.6 1035.9 1543.1 1038.2 1542.7C1040.6 1542.2 1042.9 1541.8 1045.3 1541.3C1047.6 1540.9 1050 1540.4 1052.4 1540C1054.7 1539.5 1057.1 1539.1 1059.4 1538.6C1061.8 1538.2 1064.1 1537.7 1066.5 1537.3C1068.8 1536.8 1071.2 1536.4 1073.5 1535.9C1075.9 1535.5 1078.2 1535 1080.6 1534.6C1082.9 1534.2 1085.3 1533.7 1087.6 1533.3C1090 1532.8 1092.4 1532.4 1094.7 1531.9C1097.1 1531.5 1099.4 1531 1101.8 1530.6C1104.1 1530.1 1106.5 1529.7 1108.8 1529.2C1111.2 1528.8 1113.5 1528.3 1115.9 1527.9C1118.2 1527.4 1120.6 1526.9 1122.9 1526.5C1125.3 1526 1128.2 1525.4 1130 1525.1C1131.8 1524.7 1132.9 1524.5 1133.5 1524.4L1135 1523C1135.4 1523.2 1136 1524.4 1137.5 1524.5C1139 1524.6 1140.9 1524.4 1144 1523.8C1147.1 1523.1 1152.8 1521.6 1156 1520.8C1159.2 1519.9 1161.4 1519.6 1163.5 1518.8C1165.6 1517.9 1165.6 1516.6 1168.5 1515.8C1171.4 1514.9 1177.7 1514.2 1181 1513.7C1184.3 1513.3 1185.7 1513.2 1188.1 1512.9C1190.4 1512.6 1192.8 1512.3 1195.1 1511.9C1197.5 1511.6 1199.8 1511.2 1202.2 1510.8C1204.5 1510.4 1206.9 1510 1209.2 1509.6C1211.6 1509.1 1213.9 1508.7 1216.3 1508.2C1218.6 1507.8 1221 1507.3 1223.3 1506.9C1225.7 1506.4 1228 1506 1230.4 1505.5C1232.7 1505 1235.1 1504.6 1237.4 1504.2C1239.8 1503.7 1242.1 1503.3 1244.5 1502.8C1246.8 1502.3 1249.2 1501.8 1251.5 1501.3C1253.9 1500.8 1256.2 1500.3 1258.6 1499.8C1260.9 1499.2 1263.3 1498.6 1265.6 1498C1268 1497.4 1270.3 1496.7 1272.7 1496C1275 1495.2 1277.4 1494.5 1279.7 1493.6C1282.1 1492.8 1284.4 1491.9 1286.8 1490.9C1289.1 1490 1291.5 1489 1293.8 1487.9C1296.2 1486.9 1298.5 1485.8 1300.9 1484.7C1303.2 1483.6 1305.6 1482.4 1307.9 1481.3C1310.3 1480.1 1312.6 1479 1315 1477.8C1317.3 1476.6 1319.7 1475.5 1322 1474.3C1324.4 1473.2 1326.7 1472.1 1329.1 1471C1331.4 1469.9 1333.8 1468.8 1336.1 1467.8C1338.5 1466.7 1340.8 1465.7 1343.2 1464.8C1345.5 1463.9 1347.9 1463 1350.2 1462.2C1352.6 1461.5 1354.9 1460.7 1357.3 1460.2C1359.6 1459.6 1362 1459.1 1364.3 1458.7C1366.7 1458.3 1369 1458.1 1371.4 1457.8C1373.7 1457.5 1376.1 1457.3 1378.4 1457C1380.8 1456.7 1383.1 1456.3 1385.5 1455.9C1387.8 1455.5 1390.2 1455.1 1392.5 1454.7C1394.9 1454.4 1397.2 1454 1399.6 1453.7C1401.9 1453.3 1404.3 1453 1406.6 1452.7C1409 1452.4 1411.3 1452.2 1413.7 1451.9C1416 1451.6 1418.4 1451.3 1420.7 1451.1C1423.1 1450.8 1425.4 1450.6 1427.8 1450.3C1430.1 1450.1 1432.5 1449.8 1434.8 1449.5C1437.2 1449.3 1439.5 1449 1441.9 1448.7C1444.2 1448.4 1446.6 1448.1 1448.9 1447.8C1451.3 1447.5 1451.9 1447.2 1456 1446.8C1460.1 1446.3 1469.3 1445.1 1473.5 1445C1477.7 1444.9 1478.9 1445.2 1481 1446.2C1483.1 1447.3 1484.6 1448.1 1486 1451.2C1487.4 1454.4 1488.3 1458.5 1489.2 1465C1490.2 1471.5 1490.8 1477.5 1491.5 1490C1492.2 1502.5 1493 1523.3 1493.5 1540C1494 1556.7 1494.5 1571.2 1494.8 1590C1495.1 1608.8 1495.3 1640.5 1495.5 1652.5C1495.7 1664.5 1495.7 1660.4 1495.7 1662" stroke="#00f" stroke-width="1.65"/>
</g>
<g font-family='"Liberation Sans", sans-serif' font-size="27" text-anchor="middle" fill="#000">
<text x="885.92" y="1913.7">-50</text>
<text x="1008.39" y="1913.7">0</text>
<text x="1130.47" y="1913.7">50</text>
<text x="1252.55" y="1913.7">100</text>
<text x="1374.62" y="1913.7">150</text>
<text x="1496.7" y="1913.7">200</text>
</g>
<text x="1178.5" y="1967.1" font-family='"Liberation Sans", sans-serif' font-size="30.5" text-anchor="middle" fill="#000">temperature /<tspan font-size="19" dy="-16">o</tspan><tspan dy="16">C</tspan></text>
<text transform="translate(820.5 1440) rotate(-90)" font-family='"Liberation Sans", sans-serif' font-size="30.5" text-anchor="end" letter-spacing="-0.12" fill="#000">heat flow translated / mW mg<tspan font-size="18.3" dy="-17.08">-1</tspan></text>
<text transform="translate(788.6 1373.2) scale(1.06 1)" font-family='"Liberation Serif", serif' font-weight="bold" font-size="40" fill="#000">(f)</text>
<text x="866.6" y="1388.25" font-family='"Liberation Sans", sans-serif' font-size="25.7" fill="#000">DO/1</text>
<text x="1428.3" y="1393.25" font-family='"Liberation Sans", sans-serif' font-size="24.3" fill="#000">^exo</text>
<path d="M866.75 1411.75 H926.25" stroke="#000" stroke-width="1.7" fill="none"/>
<path d="M866.75 1443.75 H926.25" stroke="#f00" stroke-width="1.7" fill="none"/>
<path d="M866.75 1475.75 H926.25" stroke="#0f0" stroke-width="1.7" fill="none"/>
<path d="M866.75 1507.75 H926.25" stroke="#00f" stroke-width="1.7" fill="none"/>
<g font-family='"Liberation Sans", sans-serif' font-size="25.9" fill="#000">
<text x="933.9" y="1420.75">1st heating</text>
<text x="933.9" y="1452.75">2nd heating</text>
<text x="933.9" y="1484.75">3rd heating</text>
<text x="933.9" y="1516.75">1st cooling</text>
</g>
<path d="M891.5 1794.5 H882.5 V1858.25 H891.5" stroke="#000" stroke-width="1.9" fill="none"/>
<text x="892.9" y="1838" font-family='"Liberation Sans", sans-serif' font-size="24.2" fill="#000">0,1 [mW mg<tspan font-size="12.58" dy="-13.55">-1</tspan><tspan dy="13.55">]</tspan></text>
</g>
<g class="panel" id="panel-g">
<clipPath id="cg"><rect x="496.7" y="2042" width="637" height="517.8"/></clipPath>
<rect x="497.9" y="2043" width="634.6" height="515.8" fill="none" stroke="#000" stroke-width="2"/>
<path d="M522.31 2558.8 v10.6M583.33 2558.8 v5.8M644.35 2558.8 v10.6M705.37 2558.8 v5.8M766.38 2558.8 v10.6M827.4 2558.8 v5.8M888.42 2558.8 v10.6M949.44 2558.8 v5.8M1010.46 2558.8 v10.6M1071.48 2558.8 v5.8M1132.5 2558.8 v10.6" stroke="#000" stroke-width="2" fill="none"/>
<g clip-path="url(#cg)" fill="none" stroke-linejoin="round" stroke-linecap="butt">
<path d="M497.9 2241.2C498.1 2246.8 498.6 2265.3 499 2274.6C499.3 2283.8 499.7 2290.8 500 2296.8C500.4 2302.7 500.6 2305.5 501.1 2310.4C501.7 2315.3 502.6 2321.4 503.3 2326.1C504 2330.7 504.6 2335.2 505.2 2338.3C505.8 2341.3 506 2342.4 506.8 2344.3C507.5 2346.1 508.6 2347.8 509.7 2349.1C510.8 2350.5 511 2351.4 513.2 2352.2C515.5 2353.1 520.4 2353.8 523.2 2354.3C526.1 2354.9 527.8 2355.1 530.1 2355.5C532.4 2355.9 534.7 2356.3 537 2356.7C539.3 2357.1 541.6 2357.5 543.9 2358C546.2 2358.4 548.5 2358.8 550.8 2359.3C553.1 2359.7 555.4 2360.2 557.7 2360.7C560 2361.1 562.3 2361.6 564.6 2362.1C566.9 2362.6 569.2 2363.1 571.5 2363.6C573.8 2364.1 576.1 2364.6 578.4 2365.2C580.7 2365.7 583 2366.2 585.3 2366.8C587.6 2367.3 589.9 2367.9 592.2 2368.4C594.5 2369 596.8 2369.6 599.1 2370.2C601.4 2370.7 603.7 2371.3 606 2371.9C608.3 2372.5 610.6 2373.1 612.9 2373.7C615.2 2374.4 617.5 2375 619.8 2375.6C622.1 2376.2 624.4 2376.9 626.7 2377.5C629 2378.2 631.3 2378.8 633.6 2379.5C635.9 2380.2 638.2 2380.9 640.5 2381.5C642.8 2382.2 645.1 2382.9 647.4 2383.6C649.7 2384.3 652 2385 654.3 2385.7C656.6 2386.4 658.9 2387.1 661.2 2387.9C663.5 2388.6 665.8 2389.3 668.1 2390.1C670.4 2390.8 673.9 2392 675 2392.3L678.8 2391.8C679.4 2391.9 680.7 2391.9 682.5 2392.5C684.3 2393.1 687.1 2394.3 689.5 2395.3C691.8 2396.2 694.1 2397.3 696.4 2398.3C698.8 2399.4 701.1 2400.5 703.4 2401.7C705.7 2402.8 708 2404 710.4 2405.3C712.7 2406.6 715 2407.9 717.3 2409.2C719.6 2410.6 722 2411.9 724.3 2413.4C726.6 2414.8 728.9 2416.3 731.2 2417.8C733.6 2419.4 735.9 2420.9 738.2 2422.5C740.5 2424.2 742.9 2425.8 745.2 2427.5C747.5 2429.2 749.8 2431 752.1 2432.8C754.5 2434.6 756.8 2436.4 759.1 2438.3C761.4 2440.1 763.8 2442.1 766.1 2444C768.4 2446 770.7 2448 773 2450C775.4 2452 778.8 2455.2 780 2456.3L782 2461.2C782.4 2462.1 780.7 2462.2 784.5 2466.2C788.3 2470.3 799.5 2480.2 805 2485.5C810.5 2490.8 814 2494.8 817.5 2498C821 2501.2 823.8 2503.5 826.2 2505C828.8 2506.5 830.2 2507.1 832.5 2507C834.8 2506.9 837.1 2506.9 840 2504.5C842.9 2502.1 846.7 2497.8 850 2492.5C853.3 2487.2 857.1 2479.6 860 2472.5C862.9 2465.4 865 2459.2 867.5 2450C870 2440.8 872.1 2428.8 875 2417.5C877.9 2406.2 881.7 2395 885 2382.5C888.3 2370 892.1 2355 895 2342.5C897.9 2330 900 2320 902.5 2307.5C905 2295 907.5 2282.5 910 2267.5C912.5 2252.5 915 2235 917.5 2217.5C920 2200 922.7 2177.9 925 2162.5C927.3 2147.1 929.2 2135 931.2 2125C933.3 2115 935.4 2108.3 937.5 2102.5C939.6 2096.7 941.7 2092.8 943.8 2090C945.8 2087.2 947.9 2086 950 2085.5C952.1 2085 953.8 2085 956.2 2087C958.8 2089 961.9 2092.8 965 2097.5C968.1 2102.2 971.7 2109 975 2115C978.3 2121 982.1 2127.9 985 2133.8C987.9 2139.6 990 2144 992.5 2150C995 2156 997.1 2162.5 1000 2170C1002.9 2177.5 1006.7 2186.7 1010 2195C1013.3 2203.3 1017.1 2213.3 1020 2220C1022.9 2226.7 1025.2 2231 1027.5 2235C1029.8 2239 1031.9 2241.8 1033.8 2243.8C1035.6 2245.7 1037.1 2246.4 1038.8 2246.5C1040.4 2246.6 1042.1 2245.2 1043.8 2244.2C1045.4 2243.2 1047.3 2240.6 1048.8 2240.5C1050.2 2240.4 1051.4 2241.3 1052.5 2243.8C1053.6 2246.2 1054.5 2248.5 1055.5 2255C1056.5 2261.5 1057.8 2273.3 1058.8 2282.5C1059.7 2291.7 1060.2 2297.5 1061.2 2310C1062.3 2322.5 1063.8 2342.5 1065 2357.5C1066.2 2372.5 1067.5 2387.9 1068.8 2400C1070 2412.1 1071.2 2421.7 1072.5 2430C1073.8 2438.3 1075 2444.6 1076.2 2450C1077.5 2455.4 1078.5 2459 1080 2462.5C1081.5 2466 1082.9 2469 1085 2471.2C1087.1 2473.5 1089.2 2474.7 1092.5 2476.2C1095.8 2477.8 1100.8 2479.4 1105 2480.8C1109.2 2482.1 1114.2 2483.7 1117.5 2484.5C1120.8 2485.3 1123 2485.3 1125 2485.5C1127 2485.7 1128.8 2485.5 1129.5 2485.5L1131 2440" stroke="#000" stroke-width="1.65"/>
<path d="M497.9 2241.2C498.1 2246.4 498.6 2263.7 498.9 2272.3C499.2 2281 499.5 2287.5 499.9 2293.1C500.2 2298.7 500.4 2301.3 500.9 2305.8C501.4 2310.4 502.3 2316.1 502.9 2320.4C503.5 2324.8 504.1 2329 504.6 2331.8C505.1 2334.7 505.4 2335.7 506.1 2337.4C506.8 2339.1 507.7 2340.8 508.7 2342C509.7 2343.2 509.6 2344 512 2344.9C514.4 2345.8 520.2 2346.9 523.2 2347.5C526.3 2348.2 527.9 2348.3 530.2 2348.7C532.5 2349.1 534.9 2349.5 537.2 2349.9C539.5 2350.3 541.8 2350.8 544.2 2351.2C546.5 2351.6 548.8 2352 551.1 2352.4C553.5 2352.9 555.8 2353.3 558.1 2353.7C560.4 2354.1 562.8 2354.6 565.1 2355C567.4 2355.4 569.7 2355.9 572.1 2356.3C574.4 2356.8 576.7 2357.2 579 2357.7C581.4 2358.1 583.7 2358.6 586 2359C588.3 2359.5 590.6 2359.9 593 2360.4C595.3 2360.8 597.6 2361.3 599.9 2361.8C602.3 2362.2 604.6 2362.7 606.9 2363.2C609.2 2363.6 611.6 2364.1 613.9 2364.6C616.2 2365.1 618.5 2365.6 620.9 2366C623.2 2366.5 625.5 2367 627.8 2367.5C630.2 2368 632.5 2368.5 634.8 2369C637.1 2369.5 639.5 2369.9 641.8 2370.4C644.1 2370.9 646.4 2371.4 648.8 2371.9C651.1 2372.4 653.4 2372.9 655.7 2373.5C658 2374 660.4 2374.5 662.7 2375C665 2375.5 667.3 2376 669.7 2376.5C672 2377 674.3 2377.6 676.6 2378.1C679 2378.6 681.3 2379.1 683.6 2379.6C685.9 2380.2 688.3 2380.7 690.6 2381.2C692.9 2381.7 695.2 2382.3 697.6 2382.8C699.9 2383.3 702.2 2383.9 704.5 2384.4C706.9 2384.9 709.2 2385.5 711.5 2386C713.8 2386.6 716.1 2387.1 718.5 2387.6C720.8 2388.2 723.1 2388.7 725.4 2389.3C727.8 2389.8 730.1 2390.4 732.4 2390.9C734.7 2391.5 737.1 2392 739.4 2392.6C741.7 2393.1 744 2393.7 746.4 2394.2C748.7 2394.8 751 2395.3 753.3 2395.9C755.7 2396.4 758 2397 760.3 2397.5C762.6 2398.1 765 2398.7 767.3 2399.2C769.6 2399.8 771.9 2400.3 774.2 2400.9C776.6 2401.5 778.9 2402 781.2 2402.6C783.5 2403.2 785.9 2403.7 788.2 2404.3C790.5 2404.9 792.8 2405.4 795.2 2406C797.5 2406.6 799.8 2407.1 802.1 2407.7C804.5 2408.3 806.8 2408.8 809.1 2409.4C811.4 2410 813.8 2410.6 816.1 2411.1C818.4 2411.7 820.7 2412.3 823.1 2412.8C825.4 2413.4 827.7 2414 830 2414.6C832.4 2415.1 834.7 2415.7 837 2416.3C839.3 2416.9 841.6 2417.4 844 2418C846.3 2418.6 848.6 2419.2 850.9 2419.7C853.3 2420.3 855.6 2420.9 857.9 2421.5C860.2 2422.2 862.6 2422.8 864.9 2423.6C867.2 2424.4 869.5 2425.2 871.9 2426.2C874.2 2427.2 876.5 2428.3 878.8 2429.6C881.2 2430.9 883.5 2432.4 885.8 2434.1C888.1 2435.8 890.5 2437.7 892.8 2439.8C895.1 2441.8 897.4 2444.1 899.8 2446.4C902.1 2448.6 904.4 2451.1 906.7 2453.4C909 2455.7 911.4 2458 913.7 2460.2C916 2462.4 918.3 2464.5 920.7 2466.4C923 2468.4 925.3 2470.2 927.6 2471.7C930 2473.3 932.3 2474.7 934.6 2475.9C936.9 2477 939.3 2477.9 941.6 2478.7C943.9 2479.5 946.2 2480 948.6 2480.4C950.9 2480.9 953.2 2481.1 955.5 2481.3C957.9 2481.5 959.3 2481.1 962.5 2481.5C965.7 2482 970.8 2483.1 975 2483.8C979.2 2484.5 981.7 2484.7 987.5 2485.5C993.3 2486.3 1001.2 2487.4 1010 2488.7C1018.8 2490 1030 2491.7 1040 2493.2C1050 2494.7 1060 2496.2 1070 2497.7C1080 2499.2 1090.1 2500.6 1100 2502C1109.9 2503.4 1124.6 2505.5 1129.5 2506.2L1131.5 2452" stroke="#f00" stroke-width="1.65"/>
<path d="M497.9 2241.2C498.1 2246.4 498.6 2263.5 498.9 2272.1C499.2 2280.6 499.5 2287.1 499.9 2292.6C500.2 2298.2 500.4 2300.7 500.9 2305.3C501.4 2309.8 502.3 2315.5 502.9 2319.8C503.5 2324 504.1 2328.2 504.6 2331.1C505.1 2333.9 505.4 2334.9 506.1 2336.6C506.8 2338.3 507.7 2339.9 508.7 2341.1C509.7 2342.4 509.6 2343.1 512 2344C514.4 2344.9 520.2 2345.9 523.2 2346.5C526.3 2347.2 527.9 2347.3 530.2 2347.8C532.5 2348.2 534.9 2348.6 537.2 2349C539.5 2349.4 541.8 2349.8 544.2 2350.3C546.5 2350.7 548.8 2351.1 551.1 2351.5C553.5 2352 555.8 2352.4 558.1 2352.8C560.4 2353.3 562.8 2353.7 565.1 2354.2C567.4 2354.6 569.7 2355 572.1 2355.5C574.4 2355.9 576.7 2356.4 579 2356.8C581.4 2357.3 583.7 2357.7 586 2358.2C588.3 2358.6 590.6 2359.1 593 2359.6C595.3 2360 597.6 2360.5 599.9 2360.9C602.3 2361.4 604.6 2361.9 606.9 2362.4C609.2 2362.8 611.6 2363.3 613.9 2363.8C616.2 2364.2 618.5 2364.7 620.9 2365.2C623.2 2365.7 625.5 2366.2 627.8 2366.6C630.2 2367.1 632.5 2367.6 634.8 2368.1C637.1 2368.6 639.5 2369.1 641.8 2369.6C644.1 2370.1 646.4 2370.6 648.8 2371.1C651.1 2371.6 653.4 2372.1 655.7 2372.6C658 2373.1 660.4 2373.6 662.7 2374.1C665 2374.6 667.3 2375.1 669.7 2375.6C672 2376.1 674.3 2376.6 676.6 2377.1C679 2377.6 681.3 2378.2 683.6 2378.7C685.9 2379.2 688.3 2379.7 690.6 2380.2C692.9 2380.8 695.2 2381.3 697.6 2381.8C699.9 2382.3 702.2 2382.9 704.5 2383.4C706.9 2383.9 709.2 2384.5 711.5 2385C713.8 2385.5 716.1 2386.1 718.5 2386.6C720.8 2387.1 723.1 2387.7 725.4 2388.2C727.8 2388.8 730.1 2389.3 732.4 2389.8C734.7 2390.4 737.1 2390.9 739.4 2391.5C741.7 2392 744 2392.6 746.4 2393.1C748.7 2393.7 751 2394.2 753.3 2394.8C755.7 2395.3 758 2395.9 760.3 2396.4C762.6 2397 765 2397.6 767.3 2398.1C769.6 2398.7 771.9 2399.2 774.2 2399.8C776.6 2400.4 778.9 2400.9 781.2 2401.5C783.5 2402.1 785.9 2402.6 788.2 2403.2C790.5 2403.8 792.8 2404.3 795.2 2404.9C797.5 2405.5 799.8 2406.1 802.1 2406.6C804.5 2407.2 806.8 2407.8 809.1 2408.4C811.4 2408.9 813.8 2409.5 816.1 2410.1C818.4 2410.7 820.7 2411.3 823.1 2411.8C825.4 2412.4 827.7 2413 830 2413.6C832.4 2414.2 834.7 2414.8 837 2415.3C839.3 2415.9 841.6 2416.5 844 2417.1C846.3 2417.7 848.6 2418.3 850.9 2418.9C853.3 2419.5 855.6 2420.1 857.9 2420.7C860.2 2421.3 862.6 2421.9 864.9 2422.6C867.2 2423.3 869.5 2424 871.9 2424.8C874.2 2425.6 876.5 2426.4 878.8 2427.4C881.2 2428.3 883.5 2429.3 885.8 2430.4C888.1 2431.6 890.5 2432.7 892.8 2434.1C895.1 2435.4 897.4 2436.9 899.8 2438.5C902.1 2440.1 904.4 2441.8 906.7 2443.7C909 2445.6 911.4 2447.6 913.7 2449.8C916 2452 918.3 2454.5 920.7 2457C923 2459.5 925.3 2462.2 927.6 2464.6C930 2467 932.3 2469.4 934.6 2471.2C936.9 2473.1 939.3 2474.5 941.6 2475.5C943.9 2476.6 946.2 2477.1 948.6 2477.7C950.9 2478.2 953.2 2478.5 955.5 2479.1C957.9 2479.6 959.3 2480.5 962.5 2481.2C965.7 2481.9 970.8 2482.5 975 2483.1C979.2 2483.7 981.7 2483.8 987.5 2484.6C993.3 2485.4 1001.2 2486.5 1010 2487.8C1018.8 2489 1030 2490.8 1040 2492.3C1050 2493.8 1060 2495.4 1070 2496.9C1080 2498.4 1089.8 2499.9 1100 2501.4C1110.2 2502.9 1126 2505.4 1131.2 2506.2" stroke="#0f0" stroke-width="1.65"/>
<path d="M498.8 2452.5L500.8 2382.5L500.8 2382.5C502.3 2382 507.3 2380.6 510 2379.7C512.7 2378.8 514.6 2378 516.9 2377.1C519.2 2376.2 521.5 2375.4 523.8 2374.5C526.1 2373.6 528.4 2372.8 530.7 2371.9C533 2371 535.3 2370.1 537.6 2369.2C540 2368.4 542.3 2367.5 544.6 2366.6C546.9 2365.7 549.2 2364.8 551.5 2363.9C553.8 2363.1 556.1 2362.2 558.4 2361.3C560.7 2360.4 563 2359.5 565.3 2358.6C567.6 2357.7 569.9 2356.8 572.2 2355.9C574.5 2355 576.8 2354.1 579.1 2353.2C581.4 2352.3 583.7 2351.4 586 2350.5C588.3 2349.6 590.6 2348.7 592.9 2347.8C595.2 2346.9 597.5 2346 599.9 2345.1C602.2 2344.2 604.5 2343.3 606.8 2342.4C609.1 2341.5 611.4 2340.6 613.7 2339.7C616 2338.8 618.3 2337.8 620.6 2336.9C622.9 2336 625.2 2335.1 627.5 2334.2C629.8 2333.3 632.1 2332.4 634.4 2331.4C636.7 2330.5 639 2329.6 641.3 2328.7C643.6 2327.8 645.9 2326.8 648.2 2325.9C650.5 2325 652.8 2324.1 655.1 2323.2C657.5 2322.2 659.8 2321.3 662.1 2320.4C664.4 2319.4 666.7 2318.5 669 2317.5C671.3 2316.6 673.6 2315.6 675.9 2314.7C678.2 2313.7 680.5 2312.7 682.8 2311.8C685.1 2310.8 687.4 2309.8 689.7 2308.8C692 2307.8 694.3 2306.8 696.6 2305.7C698.9 2304.7 701.2 2303.7 703.5 2302.6C705.8 2301.6 708.1 2300.5 710.4 2299.4C712.7 2298.3 715 2297.2 717.4 2296.1C719.7 2295 722 2293.8 724.3 2292.7C726.6 2291.5 728.9 2290.4 731.2 2289.2C733.5 2288 735.8 2286.8 738.1 2285.5C740.4 2284.3 742.2 2283.7 745 2281.7C747.8 2279.8 753.3 2275.1 755 2273.8L758.2 2266.2L759.5 2271.2C760.4 2271 762.4 2270.6 765 2269.5C767.6 2268.4 771.8 2265.7 775 2264.5C778.2 2263.3 779.8 2263.6 784 2262.5C788.2 2261.4 795.2 2259.2 800 2258C804.8 2256.8 808.3 2255.8 812.5 2255C816.7 2254.2 822.9 2253.8 825 2253.5L828.8 2255.5L831.2 2253.8C833.5 2252.5 841.5 2248.3 845 2246.2C848.5 2244.2 849.7 2243.1 852 2241.4C854.4 2239.8 856.7 2238.2 859 2236.4C861.4 2234.6 863.7 2232.8 866 2230.9C868.4 2228.9 870.7 2226.9 873.1 2224.7C875.4 2222.5 877.7 2220.2 880.1 2217.6C882.4 2215.1 884.7 2212.3 887.1 2209.5C889.4 2206.6 891.8 2203.6 894.1 2200.5C896.4 2197.5 898.8 2194.2 901.1 2191C903.4 2187.8 905.8 2184.5 908.1 2181.2C910.5 2178 912.8 2174.6 915.1 2171.4C917.5 2168.2 919.8 2165 922.2 2162C924.5 2159.1 926.8 2156.1 929.2 2153.5C931.5 2150.9 933.8 2148.4 936.2 2146.3C938.5 2144.1 940.9 2142.3 943.2 2140.7C945.5 2139 947.9 2137.7 950.2 2136.4C952.5 2135.2 954.9 2134.1 957.2 2133C959.6 2132 961.9 2131 964.2 2130C966.6 2129.1 968.9 2128.3 971.2 2127.4C973.6 2126.6 975.9 2125.9 978.3 2125.2C980.6 2124.4 982.9 2123.8 985.3 2123.2C987.6 2122.5 990 2121.9 992.3 2121.4C994.6 2120.8 997 2120.3 999.3 2119.8C1001.6 2119.3 1004 2118.9 1006.3 2118.4C1008.7 2117.9 1011 2117.4 1013.3 2116.9C1015.7 2116.3 1018 2115.7 1020.3 2115.1C1022.7 2114.5 1025 2113.8 1027.4 2113.1C1029.7 2112.5 1032 2111.8 1034.4 2111C1036.7 2110.3 1039.1 2109.5 1041.4 2108.8C1043.7 2108 1046.1 2107.2 1048.4 2106.4C1050.7 2105.6 1053.1 2104.8 1055.4 2104C1057.8 2103.2 1060.1 2102.4 1062.4 2101.6C1064.8 2100.8 1067.1 2100 1069.4 2099.2C1071.8 2098.5 1074.1 2097.7 1076.5 2096.9C1078.8 2096.2 1081.1 2095.4 1083.5 2094.7C1085.8 2093.9 1088.1 2093.1 1090.5 2092.3C1092.8 2091.4 1094.7 2091.1 1097.5 2089.5C1100.3 2088 1104.7 2084.5 1107.5 2083C1110.3 2081.5 1112.5 2080.6 1114.5 2080.8C1116.5 2080.9 1118.1 2081.4 1119.5 2083.8C1120.9 2086.1 1122 2089 1123 2095C1124 2101 1124.8 2107.5 1125.5 2120C1126.2 2132.5 1126.9 2151.2 1127.5 2170C1128.1 2188.8 1128.7 2207.5 1129.2 2232.5C1129.8 2257.5 1130.6 2292.1 1131 2320C1131.4 2347.9 1131.3 2377.3 1131.4 2400C1131.5 2422.7 1131.7 2446.7 1131.7 2456" stroke="#00f" stroke-width="1.65"/>
</g>
<g font-family='"Liberation Sans", sans-serif' font-size="27" text-anchor="middle" fill="#000">
<text x="521.91" y="2596.2">-50</text>
<text x="644.35" y="2596.2">0</text>
<text x="766.38" y="2596.2">50</text>
<text x="888.42" y="2596.2">100</text>
<text x="1010.46" y="2596.2">150</text>
<text x="1132.5" y="2596.2">200</text>
</g>
<text x="814.4" y="2649.6" font-family='"Liberation Sans", sans-serif' font-size="30.5" text-anchor="middle" fill="#000">temperature /<tspan font-size="19" dy="-16">o</tspan><tspan dy="16">C</tspan></text>
<text transform="translate(458.75 2101.25) rotate(-90)" font-family='"Liberation Sans", sans-serif' font-size="30.5" text-anchor="end" letter-spacing="-0.12" fill="#000">heat flow translated / mW mg<tspan font-size="18.3" dy="-17.08">-1</tspan></text>
<text transform="translate(424.8 2052.7) scale(1.06 1)" font-family='"Liberation Serif", serif' font-weight="bold" font-size="40" fill="#000">(g)</text>
<text x="506.3" y="2070.75" font-family='"Liberation Sans", sans-serif' font-size="25.7" fill="#000">CO/V/2</text>
<text x="1038.5" y="2078.75" font-family='"Liberation Sans", sans-serif' font-size="24.3" fill="#000">^exo</text>
<path d="M505.75 2094.5 H565" stroke="#000" stroke-width="1.7" fill="none"/>
<path d="M505.75 2126.7 H565" stroke="#f00" stroke-width="1.7" fill="none"/>
<path d="M505.75 2158.9 H565" stroke="#0f0" stroke-width="1.7" fill="none"/>
<path d="M510.5 2191.1 H563.75" stroke="#00f" stroke-width="1.7" fill="none"/>
<g font-family='"Liberation Sans", sans-serif' font-size="25.9" fill="#000">
<text x="572.1" y="2103.1">1st heating</text>
<text x="572.1" y="2135.3">2nd heating</text>
<text x="572.1" y="2167.5">3rd heating</text>
<text x="572.1" y="2199.7">1st cooling</text>
</g>
<path d="M532 2468 H523 V2539.25 H532" stroke="#000" stroke-width="1.9" fill="none"/>
<text x="544.4" y="2530" font-family='"Liberation Sans", sans-serif' font-size="24.2" fill="#000">0,1 [mW mg<tspan font-size="12.58" dy="-13.55">-1</tspan><tspan dy="13.55">]</tspan></text>
</g>
</svg>
</body>
</html>
